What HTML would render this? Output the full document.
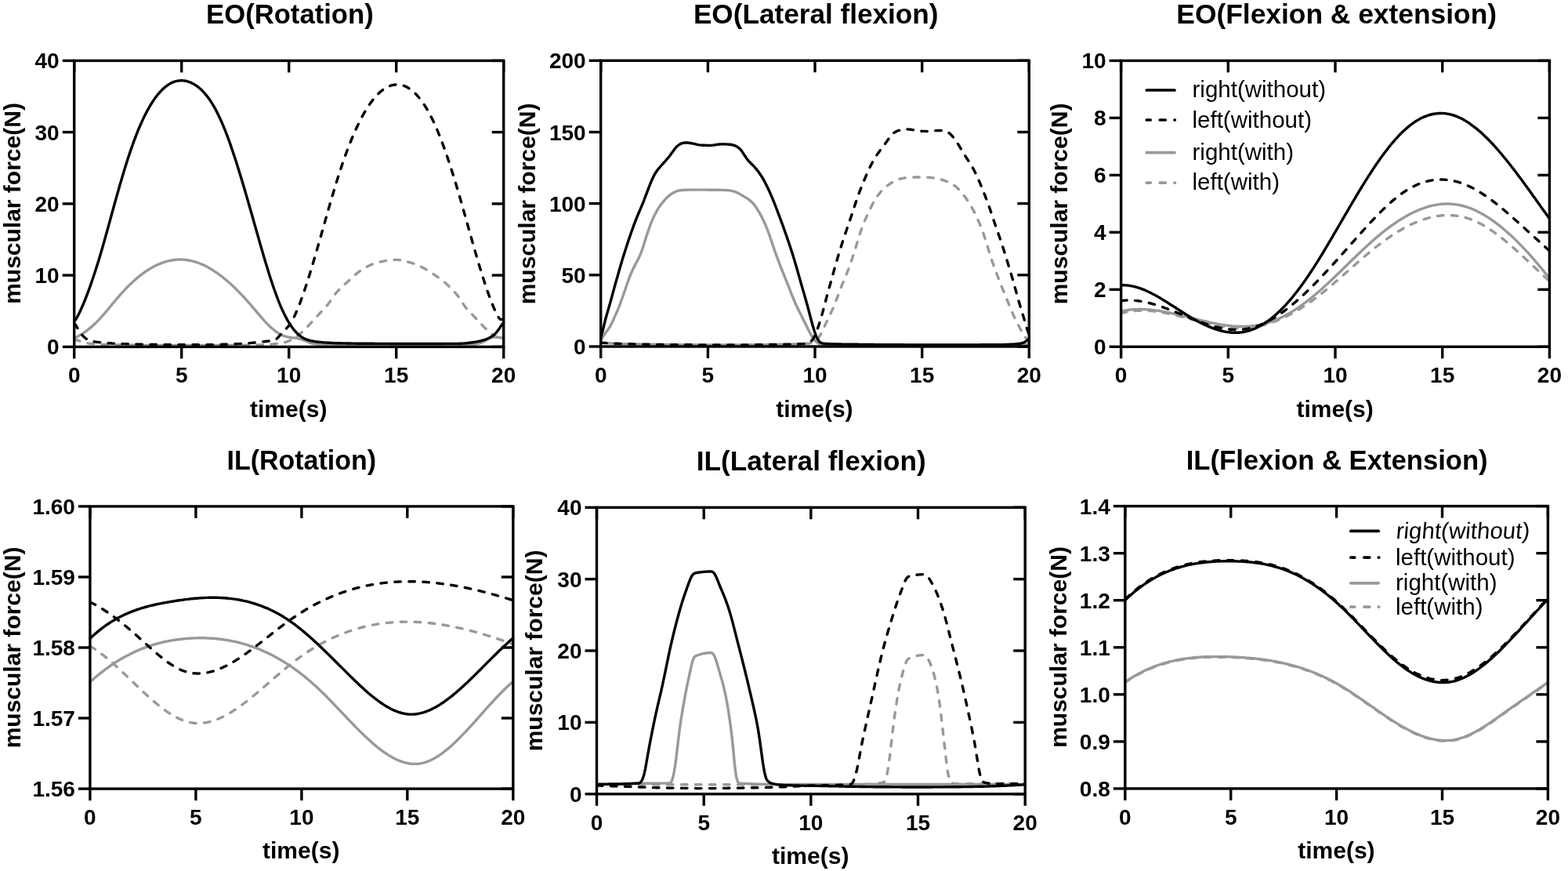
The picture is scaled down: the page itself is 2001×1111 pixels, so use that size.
<!DOCTYPE html><html><head><meta charset="utf-8"><style>html,body{margin:0;padding:0;background:#fff;}svg{display:block}</style></head><body>
<svg width="2001" height="1111" viewBox="0 0 2001 1111">
<rect width="2001" height="1111" fill="#fff"/>
<g><clipPath id="c0"><rect x="92.7" y="75.4" width="552.0" height="369.0"/></clipPath><path d="M94.7,433.0 L96.7,433.4 L98.7,434.1 L100.7,434.7 L102.7,435.4 L104.7,436.1 L106.7,436.6 L108.7,437.1 L110.7,437.5 L112.7,437.9 L114.7,438.2 L116.7,438.4 L118.7,438.7 L120.7,438.9 L122.7,439.0 L124.7,439.2 L126.7,439.3 L128.7,439.4 L130.7,439.5 L132.7,439.6 L134.7,439.6 L136.7,439.7 L138.7,439.7 L140.7,439.8 L142.7,439.8 L144.7,439.9 L146.7,439.9 L148.7,440.0 L150.7,440.0 L152.7,440.0 L154.7,440.1 L156.7,440.1 L158.7,440.2 L160.7,440.2 L162.7,440.2 L164.7,440.2 L166.7,440.3 L168.7,440.3 L170.7,440.3 L172.7,440.3 L174.7,440.4 L176.7,440.4 L178.7,440.4 L180.7,440.4 L182.7,440.4 L184.7,440.5 L186.7,440.5 L188.7,440.5 L190.7,440.5 L192.7,440.5 L194.7,440.5 L196.7,440.5 L198.7,440.5 L200.7,440.5 L202.7,440.5 L204.7,440.5 L206.7,440.5 L208.7,440.5 L210.7,440.5 L212.7,440.5 L214.7,440.5 L216.7,440.5 L218.7,440.5 L220.7,440.5 L222.7,440.5 L224.7,440.5 L226.7,440.5 L228.7,440.5 L230.7,440.5 L232.7,440.5 L234.7,440.5 L236.7,440.5 L238.7,440.5 L240.7,440.5 L242.7,440.5 L244.7,440.5 L246.7,440.5 L248.7,440.5 L250.7,440.5 L252.7,440.5 L254.7,440.5 L256.7,440.5 L258.7,440.5 L260.7,440.5 L262.7,440.5 L264.7,440.5 L266.7,440.5 L268.7,440.5 L270.7,440.5 L272.7,440.5 L274.7,440.5 L276.7,440.5 L278.7,440.5 L280.7,440.5 L282.7,440.5 L284.7,440.5 L286.7,440.5 L288.7,440.5 L290.7,440.5 L292.7,440.5 L294.7,440.5 L296.7,440.5 L298.7,440.5 L300.7,440.5 L302.7,440.5 L304.7,440.5 L306.7,440.5 L308.7,440.4 L310.7,440.4 L312.7,440.4 L314.7,440.3 L316.7,440.3 L318.7,440.2 L320.7,440.2 L322.7,440.1 L324.7,440.1 L326.7,440.0 L328.7,439.9 L330.7,439.9 L332.7,439.8 L334.7,439.7 L336.7,439.6 L338.7,439.5 L340.7,439.5 L342.7,439.3 L344.7,439.2 L346.7,439.1 L348.7,438.9 L350.7,438.7 L352.7,438.5 L354.7,438.2 L356.7,438.0 L358.7,437.6 L360.7,437.3 L362.7,436.8 L364.7,436.3 L366.7,435.6 L368.7,434.8 L370.7,434.0 L372.7,433.0 L374.7,432.0 L376.7,430.7 L378.7,429.3 L380.7,427.7 L382.7,426.0 L384.7,424.2 L386.7,422.4 L388.7,420.5 L390.7,418.5 L392.7,416.5 L394.7,414.4 L396.7,412.2 L398.7,410.0 L400.7,407.8 L402.7,405.5 L404.7,403.3 L406.7,401.1 L408.7,399.0 L410.7,396.9 L412.7,394.9 L414.7,392.7 L416.7,390.5 L418.7,388.0 L420.7,385.3 L422.7,382.4 L424.7,379.4 L426.7,376.6 L428.7,374.0 L430.7,371.7 L432.7,369.5 L434.7,367.5 L436.7,365.6 L438.7,363.8 L440.7,362.0 L442.7,360.2 L444.7,358.4 L446.7,356.6 L448.7,354.8 L450.7,352.9 L452.7,351.1 L454.7,349.4 L456.7,347.7 L458.7,346.1 L460.7,344.6 L462.7,343.3 L464.7,342.1 L466.7,341.0 L468.7,340.0 L470.7,339.0 L472.7,338.1 L474.7,337.2 L476.7,336.5 L478.7,335.8 L480.7,335.2 L482.7,334.6 L484.7,334.2 L486.7,333.7 L488.7,333.3 L490.7,332.9 L492.7,332.6 L494.7,332.3 L496.7,332.0 L498.7,331.7 L500.7,331.6 L502.7,331.4 L504.7,331.4 L506.7,331.4 L508.7,331.6 L510.7,331.8 L512.7,332.1 L514.7,332.5 L516.7,332.9 L518.7,333.4 L520.7,334.0 L522.7,334.6 L524.7,335.2 L526.7,335.8 L528.7,336.5 L530.7,337.2 L532.7,338.0 L534.7,338.9 L536.7,339.9 L538.7,340.9 L540.7,342.0 L542.7,343.1 L544.7,344.3 L546.7,345.5 L548.7,346.8 L550.7,348.0 L552.7,349.3 L554.7,350.7 L556.7,352.0 L558.7,353.5 L560.7,354.9 L562.7,356.4 L564.7,358.0 L566.7,359.6 L568.7,361.3 L570.7,363.1 L572.7,364.9 L574.7,366.8 L576.7,368.8 L578.7,370.9 L580.7,373.1 L582.7,375.4 L584.7,378.0 L586.7,380.8 L588.7,383.9 L590.7,387.1 L592.7,390.1 L594.7,392.8 L596.7,395.1 L598.7,397.3 L600.7,399.3 L602.7,401.3 L604.7,403.4 L606.7,405.5 L608.7,407.6 L610.7,409.8 L612.7,411.9 L614.7,414.0 L616.7,416.1 L618.7,418.1 L620.7,420.1 L622.7,422.0 L624.7,423.8 L626.7,425.5 L628.7,426.9 L630.7,428.2 L632.7,429.3 L634.7,430.3 L636.7,431.1 L638.7,431.8 L640.7,432.4 L642.7,432.7" fill="none" stroke="#999" stroke-width="3.4" stroke-linecap="round" stroke-linejoin="round" stroke-dasharray="7.5 10.5" clip-path="url(#c0)"/><path d="M94.7,431.2 L96.7,430.4 L98.7,429.4 L100.7,428.3 L102.7,427.1 L104.7,425.9 L106.7,424.6 L108.7,423.2 L110.7,421.8 L112.7,420.2 L114.7,418.6 L116.7,416.9 L118.7,415.2 L120.7,413.3 L122.7,411.4 L124.7,409.4 L126.7,407.3 L128.7,405.1 L130.7,402.9 L132.7,400.6 L134.7,398.3 L136.7,396.0 L138.7,393.6 L140.7,391.1 L142.7,388.7 L144.7,386.3 L146.7,383.9 L148.7,381.5 L150.7,379.1 L152.7,376.8 L154.7,374.6 L156.7,372.3 L158.7,370.2 L160.7,368.1 L162.7,366.0 L164.7,364.0 L166.7,362.1 L168.7,360.2 L170.7,358.4 L172.7,356.6 L174.7,354.9 L176.7,353.2 L178.7,351.6 L180.7,350.1 L182.7,348.6 L184.7,347.1 L186.7,345.8 L188.7,344.5 L190.7,343.2 L192.7,342.0 L194.7,340.9 L196.7,339.8 L198.7,338.8 L200.7,337.9 L202.7,337.0 L204.7,336.1 L206.7,335.4 L208.7,334.7 L210.7,334.0 L212.7,333.4 L214.7,332.9 L216.7,332.5 L218.7,332.1 L220.7,331.7 L222.7,331.5 L224.7,331.3 L226.7,331.1 L228.7,331.1 L230.7,331.0 L232.7,331.1 L234.7,331.2 L236.7,331.4 L238.7,331.7 L240.7,332.0 L242.7,332.4 L244.7,332.8 L246.7,333.3 L248.7,333.9 L250.7,334.5 L252.7,335.2 L254.7,336.0 L256.7,336.8 L258.7,337.6 L260.7,338.6 L262.7,339.6 L264.7,340.6 L266.7,341.7 L268.7,342.9 L270.7,344.1 L272.7,345.3 L274.7,346.7 L276.7,348.0 L278.7,349.4 L280.7,350.9 L282.7,352.4 L284.7,354.0 L286.7,355.6 L288.7,357.3 L290.7,359.0 L292.7,360.7 L294.7,362.5 L296.7,364.4 L298.7,366.3 L300.7,368.2 L302.7,370.2 L304.7,372.2 L306.7,374.3 L308.7,376.4 L310.7,378.5 L312.7,380.7 L314.7,382.9 L316.7,385.1 L318.7,387.4 L320.7,389.7 L322.7,392.1 L324.7,394.4 L326.7,396.8 L328.7,399.2 L330.7,401.6 L332.7,403.9 L334.7,406.2 L336.7,408.5 L338.7,410.7 L340.7,412.8 L342.7,414.8 L344.7,416.7 L346.7,418.5 L348.7,420.2 L350.7,421.8 L352.7,423.3 L354.7,424.6 L356.7,425.8 L358.7,426.9 L360.7,427.8 L362.7,428.6 L364.7,429.2 L366.7,429.8 L368.7,430.1 L370.7,430.4 L372.7,430.7 L374.7,430.9 L376.7,431.1 L378.7,431.4 L380.7,431.8 L382.7,432.3 L384.7,432.9 L386.7,433.6 L388.7,434.4 L390.7,435.2 L392.7,436.0 L394.7,436.8 L396.7,437.5 L398.7,438.0 L400.7,438.4 L402.7,438.7 L404.7,438.9 L406.7,439.2 L408.7,439.4 L410.7,439.6 L412.7,439.7 L414.7,439.8 L416.7,439.9 L418.7,440.0 L420.7,440.0 L422.7,440.0 L424.7,440.0 L426.7,440.0 L428.7,440.0 L430.7,440.0 L432.7,440.0 L434.7,440.0 L436.7,440.0 L438.7,440.0 L440.7,440.0 L442.7,440.0 L444.7,440.0 L446.7,440.0 L448.7,440.0 L450.7,440.0 L452.7,440.0 L454.7,440.0 L456.7,440.0 L458.7,440.0 L460.7,440.0 L462.7,440.0 L464.7,440.0 L466.7,440.0 L468.7,440.0 L470.7,440.0 L472.7,440.0 L474.7,440.0 L476.7,440.0 L478.7,440.0 L480.7,440.0 L482.7,440.0 L484.7,440.0 L486.7,440.0 L488.7,440.0 L490.7,440.0 L492.7,440.0 L494.7,440.0 L496.7,440.0 L498.7,440.0 L500.7,440.0 L502.7,440.0 L504.7,440.0 L506.7,440.0 L508.7,440.0 L510.7,440.0 L512.7,440.0 L514.7,440.0 L516.7,440.0 L518.7,440.0 L520.7,440.0 L522.7,440.0 L524.7,440.0 L526.7,440.0 L528.7,440.0 L530.7,440.0 L532.7,440.0 L534.7,440.0 L536.7,440.0 L538.7,440.0 L540.7,440.0 L542.7,440.0 L544.7,440.0 L546.7,440.0 L548.7,440.0 L550.7,440.0 L552.7,440.0 L554.7,440.0 L556.7,440.0 L558.7,440.0 L560.7,440.0 L562.7,440.0 L564.7,440.0 L566.7,440.0 L568.7,440.0 L570.7,440.0 L572.7,440.0 L574.7,440.0 L576.7,440.0 L578.7,440.0 L580.7,440.0 L582.7,440.0 L584.7,440.0 L586.7,440.0 L588.7,440.0 L590.7,440.0 L592.7,440.0 L594.7,440.0 L596.7,440.0 L598.7,440.0 L600.7,439.9 L602.7,439.7 L604.7,439.5 L606.7,439.1 L608.7,438.7 L610.7,438.2 L612.7,437.6 L614.7,436.9 L616.7,436.0 L618.7,434.9 L620.7,433.6 L622.7,432.4 L624.7,431.4 L626.7,430.7 L628.7,430.3 L630.7,430.1 L632.7,430.1 L634.7,430.2 L636.7,430.4 L638.7,430.7 L640.7,431.0 L642.7,431.2" fill="none" stroke="#999" stroke-width="3.4" stroke-linecap="round" stroke-linejoin="round" clip-path="url(#c0)"/><path d="M94.7,412.4 L96.7,414.9 L98.7,418.2 L100.7,421.6 L102.7,424.6 L104.7,427.2 L106.7,429.3 L108.7,431.1 L110.7,432.6 L112.7,433.7 L114.7,434.5 L116.7,435.0 L118.7,435.5 L120.7,435.8 L122.7,436.2 L124.7,436.4 L126.7,436.6 L128.7,436.9 L130.7,437.1 L132.7,437.2 L134.7,437.4 L136.7,437.6 L138.7,437.7 L140.7,437.8 L142.7,438.0 L144.7,438.1 L146.7,438.2 L148.7,438.3 L150.7,438.4 L152.7,438.4 L154.7,438.5 L156.7,438.6 L158.7,438.6 L160.7,438.7 L162.7,438.8 L164.7,438.8 L166.7,438.9 L168.7,438.9 L170.7,439.0 L172.7,439.0 L174.7,439.1 L176.7,439.1 L178.7,439.2 L180.7,439.2 L182.7,439.3 L184.7,439.3 L186.7,439.3 L188.7,439.4 L190.7,439.4 L192.7,439.4 L194.7,439.4 L196.7,439.5 L198.7,439.5 L200.7,439.5 L202.7,439.5 L204.7,439.5 L206.7,439.6 L208.7,439.6 L210.7,439.6 L212.7,439.6 L214.7,439.6 L216.7,439.6 L218.7,439.7 L220.7,439.7 L222.7,439.7 L224.7,439.7 L226.7,439.7 L228.7,439.7 L230.7,439.7 L232.7,439.8 L234.7,439.8 L236.7,439.8 L238.7,439.8 L240.7,439.8 L242.7,439.8 L244.7,439.8 L246.7,439.8 L248.7,439.8 L250.7,439.8 L252.7,439.8 L254.7,439.8 L256.7,439.8 L258.7,439.8 L260.7,439.7 L262.7,439.7 L264.7,439.7 L266.7,439.7 L268.7,439.6 L270.7,439.6 L272.7,439.6 L274.7,439.5 L276.7,439.5 L278.7,439.5 L280.7,439.4 L282.7,439.4 L284.7,439.3 L286.7,439.2 L288.7,439.2 L290.7,439.1 L292.7,439.1 L294.7,439.0 L296.7,438.9 L298.7,438.8 L300.7,438.8 L302.7,438.7 L304.7,438.6 L306.7,438.5 L308.7,438.4 L310.7,438.3 L312.7,438.2 L314.7,438.0 L316.7,437.8 L318.7,437.6 L320.7,437.4 L322.7,437.2 L324.7,437.0 L326.7,436.8 L328.7,436.6 L330.7,436.4 L332.7,436.2 L334.7,436.0 L336.7,435.7 L338.7,435.5 L340.7,435.3 L342.7,435.1 L344.7,434.9 L346.7,434.6 L348.7,434.3 L350.7,433.6 L352.7,432.5 L354.7,430.7 L356.7,428.4 L358.7,426.0 L360.7,423.8 L362.7,421.8 L364.7,419.8 L366.7,417.7 L368.7,415.3 L370.7,412.6 L372.7,409.4 L374.7,405.6 L376.7,401.3 L378.7,396.7 L380.7,391.9 L382.7,386.8 L384.7,381.4 L386.7,375.8 L388.7,370.0 L390.7,364.0 L392.7,357.8 L394.7,351.4 L396.7,344.9 L398.7,338.3 L400.7,331.6 L402.7,324.8 L404.7,317.8 L406.7,310.9 L408.7,303.8 L410.7,296.8 L412.7,289.7 L414.7,282.7 L416.7,275.6 L418.7,268.6 L420.7,261.6 L422.7,254.7 L424.7,247.9 L426.7,241.2 L428.7,234.6 L430.7,228.2 L432.7,221.9 L434.7,215.7 L436.7,209.8 L438.7,204.0 L440.7,198.3 L442.7,192.9 L444.7,187.6 L446.7,182.5 L448.7,177.5 L450.7,172.8 L452.7,168.2 L454.7,163.8 L456.7,159.5 L458.7,155.4 L460.7,151.5 L462.7,147.8 L464.7,144.2 L466.7,140.8 L468.7,137.6 L470.7,134.5 L472.7,131.6 L474.7,128.9 L476.7,126.4 L478.7,124.0 L480.7,121.7 L482.7,119.7 L484.7,117.8 L486.7,116.1 L488.7,114.5 L490.7,113.1 L492.7,111.9 L494.7,110.8 L496.7,109.9 L498.7,109.2 L500.7,108.6 L502.7,108.2 L504.7,108.0 L506.7,107.9 L508.7,108.0 L510.7,108.2 L512.7,108.6 L514.7,109.2 L516.7,109.9 L518.7,110.8 L520.7,111.9 L522.7,113.2 L524.7,114.6 L526.7,116.2 L528.7,118.0 L530.7,120.0 L532.7,122.1 L534.7,124.5 L536.7,127.0 L538.7,129.7 L540.7,132.6 L542.7,135.7 L544.7,139.0 L546.7,142.5 L548.7,146.2 L550.7,150.0 L552.7,154.1 L554.7,158.4 L556.7,162.9 L558.7,167.6 L560.7,172.5 L562.7,177.6 L564.7,182.9 L566.7,188.4 L568.7,194.0 L570.7,199.8 L572.7,205.8 L574.7,211.9 L576.7,218.1 L578.7,224.5 L580.7,231.0 L582.7,237.7 L584.7,244.4 L586.7,251.2 L588.7,258.2 L590.7,265.2 L592.7,272.3 L594.7,279.4 L596.7,286.5 L598.7,293.6 L600.7,300.8 L602.7,307.9 L604.7,314.9 L606.7,321.9 L608.7,328.8 L610.7,335.6 L612.7,342.2 L614.7,348.8 L616.7,355.1 L618.7,361.3 L620.7,367.3 L622.7,373.1 L624.7,378.7 L626.7,384.0 L628.7,389.0 L630.7,393.8 L632.7,398.2 L634.7,402.3 L636.7,405.5 L638.7,407.4 L640.7,407.6 L642.7,406.4" fill="none" stroke="#000" stroke-width="3.4" stroke-linecap="round" stroke-linejoin="round" stroke-dasharray="7.5 10.5" clip-path="url(#c0)"/><path d="M94.7,410.0 L96.7,407.5 L98.7,404.1 L100.7,400.2 L102.7,396.0 L104.7,391.5 L106.7,386.9 L108.7,382.0 L110.7,376.9 L112.7,371.6 L114.7,366.1 L116.7,360.4 L118.7,354.5 L120.7,348.5 L122.7,342.3 L124.7,335.9 L126.7,329.4 L128.7,322.7 L130.7,315.9 L132.7,308.9 L134.7,301.8 L136.7,294.7 L138.7,287.4 L140.7,280.1 L142.7,272.8 L144.7,265.5 L146.7,258.3 L148.7,251.1 L150.7,244.0 L152.7,237.0 L154.7,230.2 L156.7,223.4 L158.7,216.8 L160.7,210.3 L162.7,204.0 L164.7,197.9 L166.7,191.9 L168.7,186.2 L170.7,180.6 L172.7,175.3 L174.7,170.1 L176.7,165.2 L178.7,160.5 L180.7,156.0 L182.7,151.6 L184.7,147.5 L186.7,143.6 L188.7,139.9 L190.7,136.3 L192.7,133.0 L194.7,129.8 L196.7,126.9 L198.7,124.1 L200.7,121.5 L202.7,119.0 L204.7,116.8 L206.7,114.7 L208.7,112.8 L210.7,111.1 L212.7,109.5 L214.7,108.1 L216.7,106.9 L218.7,105.8 L220.7,104.9 L222.7,104.2 L224.7,103.6 L226.7,103.2 L228.7,102.9 L230.7,102.8 L232.7,102.8 L234.7,102.9 L236.7,103.2 L238.7,103.7 L240.7,104.3 L242.7,105.0 L244.7,105.9 L246.7,106.9 L248.7,108.1 L250.7,109.4 L252.7,110.9 L254.7,112.5 L256.7,114.3 L258.7,116.3 L260.7,118.4 L262.7,120.8 L264.7,123.3 L266.7,126.0 L268.7,128.9 L270.7,132.1 L272.7,135.4 L274.7,138.9 L276.7,142.7 L278.7,146.7 L280.7,150.9 L282.7,155.3 L284.7,160.0 L286.7,164.9 L288.7,170.0 L290.7,175.2 L292.7,180.7 L294.7,186.4 L296.7,192.2 L298.7,198.2 L300.7,204.3 L302.7,210.5 L304.7,216.9 L306.7,223.4 L308.7,230.0 L310.7,236.7 L312.7,243.5 L314.7,250.4 L316.7,257.3 L318.7,264.3 L320.7,271.3 L322.7,278.3 L324.7,285.4 L326.7,292.4 L328.7,299.5 L330.7,306.5 L332.7,313.5 L334.7,320.4 L336.7,327.2 L338.7,334.0 L340.7,340.6 L342.7,347.1 L344.7,353.4 L346.7,359.5 L348.7,365.5 L350.7,371.2 L352.7,376.7 L354.7,382.0 L356.7,387.1 L358.7,391.8 L360.7,396.3 L362.7,400.5 L364.7,404.4 L366.7,408.1 L368.7,411.5 L370.7,414.6 L372.7,417.5 L374.7,420.1 L376.7,422.5 L378.7,424.7 L380.7,426.6 L382.7,428.3 L384.7,429.7 L386.7,431.0 L388.7,432.0 L390.7,432.8 L392.7,433.5 L394.7,434.1 L396.7,434.6 L398.7,435.0 L400.7,435.4 L402.7,435.7 L404.7,436.0 L406.7,436.2 L408.7,436.4 L410.7,436.6 L412.7,436.8 L414.7,436.9 L416.7,437.1 L418.7,437.2 L420.7,437.3 L422.7,437.4 L424.7,437.5 L426.7,437.6 L428.7,437.7 L430.7,437.7 L432.7,437.8 L434.7,437.8 L436.7,437.9 L438.7,437.9 L440.7,437.9 L442.7,438.0 L444.7,438.0 L446.7,438.0 L448.7,438.1 L450.7,438.1 L452.7,438.1 L454.7,438.2 L456.7,438.2 L458.7,438.2 L460.7,438.2 L462.7,438.2 L464.7,438.3 L466.7,438.3 L468.7,438.3 L470.7,438.3 L472.7,438.3 L474.7,438.3 L476.7,438.3 L478.7,438.4 L480.7,438.4 L482.7,438.4 L484.7,438.4 L486.7,438.4 L488.7,438.4 L490.7,438.4 L492.7,438.4 L494.7,438.4 L496.7,438.4 L498.7,438.5 L500.7,438.5 L502.7,438.5 L504.7,438.5 L506.7,438.5 L508.7,438.5 L510.7,438.5 L512.7,438.5 L514.7,438.5 L516.7,438.5 L518.7,438.5 L520.7,438.5 L522.7,438.5 L524.7,438.5 L526.7,438.5 L528.7,438.5 L530.7,438.5 L532.7,438.5 L534.7,438.5 L536.7,438.5 L538.7,438.5 L540.7,438.5 L542.7,438.5 L544.7,438.5 L546.7,438.5 L548.7,438.5 L550.7,438.5 L552.7,438.5 L554.7,438.5 L556.7,438.5 L558.7,438.5 L560.7,438.5 L562.7,438.5 L564.7,438.5 L566.7,438.5 L568.7,438.4 L570.7,438.4 L572.7,438.4 L574.7,438.4 L576.7,438.4 L578.7,438.4 L580.7,438.4 L582.7,438.4 L584.7,438.4 L586.7,438.3 L588.7,438.2 L590.7,438.1 L592.7,438.0 L594.7,437.8 L596.7,437.6 L598.7,437.3 L600.7,437.0 L602.7,436.8 L604.7,436.5 L606.7,436.2 L608.7,435.8 L610.7,435.4 L612.7,435.0 L614.7,434.5 L616.7,433.9 L618.7,433.3 L620.7,432.6 L622.7,431.8 L624.7,430.8 L626.7,429.7 L628.7,428.4 L630.7,426.8 L632.7,424.9 L634.7,422.6 L636.7,419.8 L638.7,416.8 L640.7,413.9 L642.7,411.5" fill="none" stroke="#000" stroke-width="3.4" stroke-linecap="round" stroke-linejoin="round" clip-path="url(#c0)"/><rect x="94.7" y="77.4" width="548.0" height="365.0" fill="none" stroke="#000" stroke-width="3.4" stroke-linejoin="miter"/><line x1="94.7" y1="442.4" x2="94.7" y2="457.4" stroke="#000" stroke-width="3.4"/><line x1="94.7" y1="77.4" x2="94.7" y2="92.4" stroke="#000" stroke-width="3.4"/><text x="94.7" y="488.3" text-anchor="middle" font-family='"Liberation Sans", Arial, Helvetica, sans-serif' font-weight="bold" font-size="28">0</text><line x1="231.7" y1="442.4" x2="231.7" y2="457.4" stroke="#000" stroke-width="3.4"/><line x1="231.7" y1="77.4" x2="231.7" y2="92.4" stroke="#000" stroke-width="3.4"/><text x="231.7" y="488.3" text-anchor="middle" font-family='"Liberation Sans", Arial, Helvetica, sans-serif' font-weight="bold" font-size="28">5</text><line x1="368.7" y1="442.4" x2="368.7" y2="457.4" stroke="#000" stroke-width="3.4"/><line x1="368.7" y1="77.4" x2="368.7" y2="92.4" stroke="#000" stroke-width="3.4"/><text x="368.7" y="488.3" text-anchor="middle" font-family='"Liberation Sans", Arial, Helvetica, sans-serif' font-weight="bold" font-size="28">10</text><line x1="505.7" y1="442.4" x2="505.7" y2="457.4" stroke="#000" stroke-width="3.4"/><line x1="505.7" y1="77.4" x2="505.7" y2="92.4" stroke="#000" stroke-width="3.4"/><text x="505.7" y="488.3" text-anchor="middle" font-family='"Liberation Sans", Arial, Helvetica, sans-serif' font-weight="bold" font-size="28">15</text><line x1="642.7" y1="442.4" x2="642.7" y2="457.4" stroke="#000" stroke-width="3.4"/><line x1="642.7" y1="77.4" x2="642.7" y2="92.4" stroke="#000" stroke-width="3.4"/><text x="642.7" y="488.3" text-anchor="middle" font-family='"Liberation Sans", Arial, Helvetica, sans-serif' font-weight="bold" font-size="28">20</text><line x1="79.7" y1="442.4" x2="94.7" y2="442.4" stroke="#000" stroke-width="3.4"/><line x1="627.7" y1="442.4" x2="642.7" y2="442.4" stroke="#000" stroke-width="3.4"/><text x="75.7" y="452.4" text-anchor="end" font-family='"Liberation Sans", Arial, Helvetica, sans-serif' font-weight="bold" font-size="28">0</text><line x1="79.7" y1="351.1" x2="94.7" y2="351.1" stroke="#000" stroke-width="3.4"/><line x1="627.7" y1="351.1" x2="642.7" y2="351.1" stroke="#000" stroke-width="3.4"/><text x="75.7" y="361.1" text-anchor="end" font-family='"Liberation Sans", Arial, Helvetica, sans-serif' font-weight="bold" font-size="28">10</text><line x1="79.7" y1="259.9" x2="94.7" y2="259.9" stroke="#000" stroke-width="3.4"/><line x1="627.7" y1="259.9" x2="642.7" y2="259.9" stroke="#000" stroke-width="3.4"/><text x="75.7" y="269.9" text-anchor="end" font-family='"Liberation Sans", Arial, Helvetica, sans-serif' font-weight="bold" font-size="28">20</text><line x1="79.7" y1="168.6" x2="94.7" y2="168.6" stroke="#000" stroke-width="3.4"/><line x1="627.7" y1="168.6" x2="642.7" y2="168.6" stroke="#000" stroke-width="3.4"/><text x="75.7" y="178.6" text-anchor="end" font-family='"Liberation Sans", Arial, Helvetica, sans-serif' font-weight="bold" font-size="28">30</text><line x1="79.7" y1="77.4" x2="94.7" y2="77.4" stroke="#000" stroke-width="3.4"/><line x1="627.7" y1="77.4" x2="642.7" y2="77.4" stroke="#000" stroke-width="3.4"/><text x="75.7" y="87.4" text-anchor="end" font-family='"Liberation Sans", Arial, Helvetica, sans-serif' font-weight="bold" font-size="28">40</text><text x="369.9" y="30.0" text-anchor="middle" textLength="213.6" lengthAdjust="spacingAndGlyphs" font-family='"Liberation Sans", Arial, Helvetica, sans-serif' font-weight="bold" font-size="35">EO(Rotation)</text><text x="368.2" y="531.7" text-anchor="middle" font-family='"Liberation Sans", Arial, Helvetica, sans-serif' font-weight="bold" font-size="30">time(s)</text><text transform="translate(26.3,259.5) rotate(-90)" x="0" y="0" text-anchor="middle" font-family='"Liberation Sans", Arial, Helvetica, sans-serif' font-weight="bold" font-size="30">muscular force(N)</text></g>
<g><clipPath id="c1"><rect x="764.7" y="75.3" width="550.5999999999999" height="368.7"/></clipPath><path d="M766.7,437.1 L768.7,437.2 L770.7,437.4 L772.7,437.5 L774.7,437.7 L776.7,437.8 L778.7,437.9 L780.7,438.0 L782.7,438.1 L784.7,438.2 L786.7,438.2 L788.7,438.3 L790.7,438.4 L792.7,438.4 L794.7,438.5 L796.7,438.6 L798.7,438.6 L800.7,438.7 L802.7,438.7 L804.7,438.8 L806.7,438.8 L808.7,438.9 L810.7,438.9 L812.7,438.9 L814.7,439.0 L816.7,439.0 L818.7,439.1 L820.7,439.1 L822.7,439.1 L824.7,439.2 L826.7,439.2 L828.7,439.2 L830.7,439.3 L832.7,439.3 L834.7,439.3 L836.7,439.3 L838.7,439.4 L840.7,439.4 L842.7,439.4 L844.7,439.4 L846.7,439.5 L848.7,439.5 L850.7,439.5 L852.7,439.5 L854.7,439.5 L856.7,439.6 L858.7,439.6 L860.7,439.6 L862.7,439.6 L864.7,439.6 L866.7,439.7 L868.7,439.7 L870.7,439.7 L872.7,439.7 L874.7,439.7 L876.7,439.7 L878.7,439.8 L880.7,439.8 L882.7,439.8 L884.7,439.8 L886.7,439.8 L888.7,439.8 L890.7,439.9 L892.7,439.9 L894.7,439.9 L896.7,439.9 L898.7,439.9 L900.7,439.9 L902.7,439.9 L904.7,439.9 L906.7,439.9 L908.7,440.0 L910.7,440.0 L912.7,440.0 L914.7,440.0 L916.7,440.0 L918.7,440.0 L920.7,440.0 L922.7,440.0 L924.7,440.0 L926.7,440.0 L928.7,440.0 L930.7,440.0 L932.7,440.0 L934.7,440.0 L936.7,440.0 L938.7,440.0 L940.7,440.0 L942.7,440.0 L944.7,440.0 L946.7,439.9 L948.7,439.9 L950.7,439.9 L952.7,439.9 L954.7,439.9 L956.7,439.8 L958.7,439.8 L960.7,439.8 L962.7,439.8 L964.7,439.8 L966.7,439.7 L968.7,439.7 L970.7,439.7 L972.7,439.6 L974.7,439.6 L976.7,439.6 L978.7,439.6 L980.7,439.5 L982.7,439.5 L984.7,439.5 L986.7,439.4 L988.7,439.4 L990.7,439.4 L992.7,439.3 L994.7,439.3 L996.7,439.3 L998.7,439.2 L1000.7,439.2 L1002.7,439.2 L1004.7,439.1 L1006.7,439.1 L1008.7,439.0 L1010.7,439.0 L1012.7,439.0 L1014.7,438.9 L1016.7,438.9 L1018.7,438.8 L1020.7,438.7 L1022.7,438.7 L1024.7,438.6 L1026.7,438.5 L1028.7,438.3 L1030.7,438.2 L1032.7,437.9 L1034.7,437.5 L1036.7,437.0 L1038.7,436.3 L1040.7,435.2 L1042.7,433.4 L1044.7,430.8 L1046.7,427.4 L1048.7,423.5 L1050.7,419.5 L1052.7,415.3 L1054.7,411.1 L1056.7,406.9 L1058.7,402.7 L1060.7,398.4 L1062.7,394.0 L1064.7,389.3 L1066.7,384.2 L1068.7,378.8 L1070.7,373.3 L1072.7,368.1 L1074.7,363.2 L1076.7,358.5 L1078.7,353.7 L1080.7,348.7 L1082.7,343.5 L1084.7,338.0 L1086.7,332.2 L1088.7,326.2 L1090.7,319.9 L1092.7,313.4 L1094.7,306.8 L1096.7,300.4 L1098.7,294.4 L1100.7,288.7 L1102.7,283.5 L1104.7,278.8 L1106.7,274.4 L1108.7,270.2 L1110.7,266.1 L1112.7,262.1 L1114.7,258.2 L1116.7,254.7 L1118.7,251.5 L1120.7,248.7 L1122.7,246.2 L1124.7,243.9 L1126.7,241.9 L1128.7,240.0 L1130.7,238.3 L1132.7,236.7 L1134.7,235.2 L1136.7,233.8 L1138.7,232.5 L1140.7,231.3 L1142.7,230.2 L1144.7,229.4 L1146.7,228.7 L1148.7,228.2 L1150.7,227.7 L1152.7,227.3 L1154.7,226.9 L1156.7,226.7 L1158.7,226.4 L1160.7,226.2 L1162.7,226.1 L1164.7,226.1 L1166.7,226.1 L1168.7,226.0 L1170.7,226.0 L1172.7,226.0 L1174.7,226.0 L1176.7,226.0 L1178.7,226.0 L1180.7,226.0 L1182.7,226.1 L1184.7,226.2 L1186.7,226.4 L1188.7,226.6 L1190.7,226.9 L1192.7,227.2 L1194.7,227.5 L1196.7,227.9 L1198.7,228.3 L1200.7,228.8 L1202.7,229.4 L1204.7,230.1 L1206.7,230.8 L1208.7,231.6 L1210.7,232.5 L1212.7,233.5 L1214.7,234.5 L1216.7,235.8 L1218.7,237.2 L1220.7,238.8 L1222.7,240.8 L1224.7,242.9 L1226.7,245.2 L1228.7,247.6 L1230.7,250.1 L1232.7,252.8 L1234.7,255.7 L1236.7,258.7 L1238.7,261.9 L1240.7,265.5 L1242.7,269.2 L1244.7,273.3 L1246.7,277.6 L1248.7,282.1 L1250.7,286.7 L1252.7,291.7 L1254.7,297.0 L1256.7,303.0 L1258.7,309.3 L1260.7,315.9 L1262.7,322.5 L1264.7,328.9 L1266.7,334.9 L1268.7,340.6 L1270.7,346.0 L1272.7,351.2 L1274.7,356.4 L1276.7,361.5 L1278.7,366.6 L1280.7,371.5 L1282.7,376.4 L1284.7,381.2 L1286.7,386.1 L1288.7,391.1 L1290.7,396.0 L1292.7,400.7 L1294.7,405.1 L1296.7,409.2 L1298.7,413.2 L1300.7,417.0 L1302.7,420.7 L1304.7,424.3 L1306.7,427.6 L1308.7,430.5 L1310.7,432.7 L1312.0,433.8" fill="none" stroke="#999" stroke-width="3.4" stroke-linecap="round" stroke-linejoin="round" stroke-dasharray="7.5 10.5" stroke-dashoffset="9" clip-path="url(#c1)"/><path d="M766.7,433.6 L768.7,430.9 L770.7,427.7 L772.7,424.8 L774.7,422.1 L776.7,419.4 L778.7,416.2 L780.7,412.3 L782.7,407.9 L784.7,403.4 L786.7,399.0 L788.7,394.3 L790.7,389.4 L792.7,384.0 L794.7,378.4 L796.7,372.6 L798.7,366.8 L800.7,361.0 L802.7,355.4 L804.7,350.2 L806.7,345.6 L808.7,341.4 L810.7,337.5 L812.7,333.7 L814.7,329.9 L816.7,325.7 L818.7,320.8 L820.7,314.9 L822.7,308.5 L824.7,302.1 L826.7,296.0 L828.7,290.2 L830.7,284.9 L832.7,280.1 L834.7,275.7 L836.7,271.8 L838.7,268.2 L840.7,264.9 L842.7,262.0 L844.7,259.3 L846.7,256.9 L848.7,254.6 L850.7,252.5 L852.7,250.6 L854.7,248.9 L856.7,247.4 L858.7,246.2 L860.7,245.1 L862.7,244.2 L864.7,243.5 L866.7,243.0 L868.7,242.7 L870.7,242.5 L872.7,242.4 L874.7,242.3 L876.7,242.2 L878.7,242.1 L880.7,242.1 L882.7,242.1 L884.7,242.1 L886.7,242.1 L888.7,242.1 L890.7,242.1 L892.7,242.1 L894.7,242.1 L896.7,242.1 L898.7,242.1 L900.7,242.1 L902.7,242.1 L904.7,242.2 L906.7,242.2 L908.7,242.2 L910.7,242.2 L912.7,242.3 L914.7,242.3 L916.7,242.3 L918.7,242.4 L920.7,242.4 L922.7,242.4 L924.7,242.5 L926.7,242.6 L928.7,242.7 L930.7,242.9 L932.7,243.3 L934.7,243.7 L936.7,244.2 L938.7,244.9 L940.7,245.8 L942.7,246.8 L944.7,247.9 L946.7,249.1 L948.7,250.2 L950.7,251.4 L952.7,252.6 L954.7,253.9 L956.7,255.4 L958.7,257.1 L960.7,259.2 L962.7,261.6 L964.7,264.3 L966.7,267.3 L968.7,270.6 L970.7,274.1 L972.7,277.9 L974.7,282.0 L976.7,286.5 L978.7,291.4 L980.7,296.6 L982.7,302.2 L984.7,308.1 L986.7,314.1 L988.7,319.9 L990.7,325.5 L992.7,330.9 L994.7,336.2 L996.7,341.3 L998.7,346.4 L1000.7,351.4 L1002.7,356.4 L1004.7,361.4 L1006.7,366.4 L1008.7,371.5 L1010.7,376.6 L1012.7,381.5 L1014.7,386.2 L1016.7,390.6 L1018.7,394.8 L1020.7,398.8 L1022.7,402.7 L1024.7,406.7 L1026.7,410.7 L1028.7,414.8 L1030.7,418.9 L1032.7,422.8 L1034.7,426.5 L1036.7,429.8 L1038.7,432.7 L1040.7,435.1 L1042.7,436.9 L1044.7,438.1 L1046.7,438.8 L1048.7,439.2 L1050.7,439.5 L1052.7,439.7 L1054.7,439.8 L1056.7,439.9 L1058.7,440.0 L1060.7,440.0 L1062.7,440.0 L1064.7,440.0 L1066.7,440.0 L1068.7,440.0 L1070.7,440.0 L1072.7,440.0 L1074.7,440.0 L1076.7,440.0 L1078.7,440.0 L1080.7,440.0 L1082.7,440.0 L1084.7,440.0 L1086.7,440.0 L1088.7,440.0 L1090.7,440.0 L1092.7,440.0 L1094.7,440.0 L1096.7,440.0 L1098.7,440.0 L1100.7,440.0 L1102.7,440.0 L1104.7,440.0 L1106.7,440.0 L1108.7,440.0 L1110.7,440.0 L1112.7,440.0 L1114.7,440.0 L1116.7,440.0 L1118.7,440.0 L1120.7,440.0 L1122.7,440.0 L1124.7,440.0 L1126.7,440.0 L1128.7,440.0 L1130.7,440.0 L1132.7,440.0 L1134.7,440.0 L1136.7,440.0 L1138.7,440.0 L1140.7,440.0 L1142.7,440.0 L1144.7,440.0 L1146.7,440.0 L1148.7,440.0 L1150.7,440.0 L1152.7,440.0 L1154.7,440.0 L1156.7,440.0 L1158.7,440.0 L1160.7,440.0 L1162.7,440.0 L1164.7,440.0 L1166.7,440.0 L1168.7,440.0 L1170.7,440.0 L1172.7,440.0 L1174.7,440.0 L1176.7,440.0 L1178.7,440.0 L1180.7,440.0 L1182.7,440.0 L1184.7,440.0 L1186.7,440.0 L1188.7,440.0 L1190.7,440.0 L1192.7,440.0 L1194.7,440.0 L1196.7,440.0 L1198.7,440.0 L1200.7,440.0 L1202.7,440.0 L1204.7,440.0 L1206.7,440.0 L1208.7,440.0 L1210.7,440.0 L1212.7,440.0 L1214.7,440.0 L1216.7,440.0 L1218.7,440.0 L1220.7,440.0 L1222.7,440.0 L1224.7,440.0 L1226.7,440.0 L1228.7,440.0 L1230.7,440.0 L1232.7,440.0 L1234.7,440.0 L1236.7,440.0 L1238.7,440.0 L1240.7,440.0 L1242.7,440.0 L1244.7,440.0 L1246.7,440.0 L1248.7,440.0 L1250.7,440.0 L1252.7,440.0 L1254.7,440.0 L1256.7,440.0 L1258.7,440.0 L1260.7,440.0 L1262.7,440.0 L1264.7,440.0 L1266.7,440.0 L1268.7,440.0 L1270.7,440.0 L1272.7,440.0 L1274.7,440.0 L1276.7,440.0 L1278.7,440.0 L1280.7,440.0 L1282.7,440.0 L1284.7,440.0 L1286.7,440.0 L1288.7,440.0 L1290.7,440.0 L1292.7,440.0 L1294.7,440.0 L1296.7,440.0 L1298.7,440.0 L1300.7,440.0 L1302.7,439.9 L1304.7,439.8 L1306.7,439.6 L1308.7,439.4 L1310.7,439.3 L1312.7,439.1 L1313.3,439.1" fill="none" stroke="#999" stroke-width="3.4" stroke-linecap="round" stroke-linejoin="round" clip-path="url(#c1)"/><path d="M766.7,437.1 L768.7,437.2 L770.7,437.4 L772.7,437.5 L774.7,437.7 L776.7,437.8 L778.7,437.9 L780.7,438.0 L782.7,438.1 L784.7,438.2 L786.7,438.2 L788.7,438.3 L790.7,438.4 L792.7,438.4 L794.7,438.5 L796.7,438.6 L798.7,438.6 L800.7,438.7 L802.7,438.7 L804.7,438.8 L806.7,438.8 L808.7,438.9 L810.7,438.9 L812.7,438.9 L814.7,439.0 L816.7,439.0 L818.7,439.1 L820.7,439.1 L822.7,439.1 L824.7,439.2 L826.7,439.2 L828.7,439.2 L830.7,439.3 L832.7,439.3 L834.7,439.3 L836.7,439.3 L838.7,439.4 L840.7,439.4 L842.7,439.4 L844.7,439.4 L846.7,439.5 L848.7,439.5 L850.7,439.5 L852.7,439.5 L854.7,439.5 L856.7,439.6 L858.7,439.6 L860.7,439.6 L862.7,439.6 L864.7,439.6 L866.7,439.7 L868.7,439.7 L870.7,439.7 L872.7,439.7 L874.7,439.7 L876.7,439.7 L878.7,439.8 L880.7,439.8 L882.7,439.8 L884.7,439.8 L886.7,439.8 L888.7,439.8 L890.7,439.9 L892.7,439.9 L894.7,439.9 L896.7,439.9 L898.7,439.9 L900.7,439.9 L902.7,439.9 L904.7,439.9 L906.7,439.9 L908.7,440.0 L910.7,440.0 L912.7,440.0 L914.7,440.0 L916.7,440.0 L918.7,440.0 L920.7,440.0 L922.7,440.0 L924.7,440.0 L926.7,440.0 L928.7,440.0 L930.7,440.0 L932.7,440.0 L934.7,440.0 L936.7,440.0 L938.7,440.0 L940.7,440.0 L942.7,440.0 L944.7,440.0 L946.7,439.9 L948.7,439.9 L950.7,439.9 L952.7,439.9 L954.7,439.9 L956.7,439.8 L958.7,439.8 L960.7,439.8 L962.7,439.8 L964.7,439.8 L966.7,439.7 L968.7,439.7 L970.7,439.7 L972.7,439.6 L974.7,439.6 L976.7,439.6 L978.7,439.6 L980.7,439.5 L982.7,439.5 L984.7,439.5 L986.7,439.4 L988.7,439.4 L990.7,439.4 L992.7,439.3 L994.7,439.3 L996.7,439.3 L998.7,439.2 L1000.7,439.2 L1002.7,439.2 L1004.7,439.1 L1006.7,439.1 L1008.7,439.1 L1010.7,439.0 L1012.7,439.0 L1014.7,438.9 L1016.7,438.9 L1018.7,438.8 L1020.7,438.8 L1022.7,438.7 L1024.7,438.6 L1026.7,438.5 L1028.7,438.3 L1030.7,437.9 L1032.7,437.0 L1034.7,435.7 L1036.7,433.6 L1038.7,430.5 L1040.7,426.2 L1042.7,421.1 L1044.7,415.4 L1046.7,409.3 L1048.7,402.5 L1050.7,395.0 L1052.7,387.3 L1054.7,379.7 L1056.7,372.4 L1058.7,365.2 L1060.7,358.1 L1062.7,350.9 L1064.7,343.7 L1066.7,336.6 L1068.7,329.8 L1070.7,323.1 L1072.7,316.6 L1074.7,310.3 L1076.7,304.1 L1078.7,298.1 L1080.7,292.3 L1082.7,286.5 L1084.7,280.6 L1086.7,274.6 L1088.7,268.5 L1090.7,262.4 L1092.7,256.4 L1094.7,250.6 L1096.7,245.1 L1098.7,240.0 L1100.7,235.1 L1102.7,230.2 L1104.7,225.5 L1106.7,220.8 L1108.7,216.4 L1110.7,212.2 L1112.7,208.3 L1114.7,204.7 L1116.7,201.3 L1118.7,198.1 L1120.7,195.2 L1122.7,192.4 L1124.7,189.7 L1126.7,187.1 L1128.7,184.5 L1130.7,181.8 L1132.7,179.0 L1134.7,176.1 L1136.7,173.5 L1138.7,171.3 L1140.7,169.5 L1142.7,168.2 L1144.7,167.2 L1146.7,166.5 L1148.7,166.0 L1150.7,165.5 L1152.7,165.2 L1154.7,165.0 L1156.7,164.9 L1158.7,164.9 L1160.7,165.1 L1162.7,165.3 L1164.7,165.6 L1166.7,165.9 L1168.7,166.3 L1170.7,166.6 L1172.7,166.9 L1174.7,167.1 L1176.7,167.3 L1178.7,167.4 L1180.7,167.4 L1182.7,167.5 L1184.7,167.4 L1186.7,167.3 L1188.7,167.1 L1190.7,166.9 L1192.7,166.7 L1194.7,166.6 L1196.7,166.5 L1198.7,166.5 L1200.7,166.5 L1202.7,166.6 L1204.7,166.9 L1206.7,167.3 L1208.7,168.1 L1210.7,169.3 L1212.7,170.9 L1214.7,173.0 L1216.7,175.4 L1218.7,178.0 L1220.7,180.9 L1222.7,183.9 L1224.7,187.2 L1226.7,190.6 L1228.7,194.0 L1230.7,197.3 L1232.7,200.4 L1234.7,203.4 L1236.7,206.4 L1238.7,209.5 L1240.7,212.8 L1242.7,216.5 L1244.7,220.5 L1246.7,224.7 L1248.7,229.1 L1250.7,233.8 L1252.7,238.6 L1254.7,243.6 L1256.7,248.7 L1258.7,253.8 L1260.7,259.2 L1262.7,264.8 L1264.7,270.7 L1266.7,276.8 L1268.7,282.7 L1270.7,288.5 L1272.7,294.2 L1274.7,300.0 L1276.7,305.8 L1278.7,311.8 L1280.7,318.1 L1282.7,324.5 L1284.7,331.0 L1286.7,337.5 L1288.7,344.1 L1290.7,350.7 L1292.7,357.6 L1294.7,364.8 L1296.7,372.0 L1298.7,379.3 L1300.7,386.3 L1302.7,392.9 L1304.7,399.4 L1306.7,406.1 L1308.7,413.0 L1310.7,419.8 L1312.7,425.1" fill="none" stroke="#000" stroke-width="3.4" stroke-linecap="round" stroke-linejoin="round" stroke-dasharray="7.5 10.5" clip-path="url(#c1)"/><path d="M766.7,429.7 L768.7,423.5 L770.7,415.3 L772.7,407.2 L774.7,400.0 L776.7,393.2 L778.7,386.2 L780.7,379.0 L782.7,371.5 L784.7,364.3 L786.7,357.3 L788.7,350.2 L790.7,343.1 L792.7,336.2 L794.7,329.6 L796.7,323.2 L798.7,317.0 L800.7,310.8 L802.7,304.8 L804.7,298.9 L806.7,293.2 L808.7,287.7 L810.7,282.4 L812.7,277.4 L814.7,272.5 L816.7,267.9 L818.7,263.2 L820.7,258.3 L822.7,253.2 L824.7,247.9 L826.7,242.6 L828.7,237.4 L830.7,232.4 L832.7,227.7 L834.7,223.7 L836.7,220.2 L838.7,217.4 L840.7,214.8 L842.7,212.5 L844.7,210.2 L846.7,208.0 L848.7,205.8 L850.7,203.5 L852.7,201.2 L854.7,198.7 L856.7,196.0 L858.7,193.2 L860.7,190.4 L862.7,188.0 L864.7,186.0 L866.7,184.5 L868.7,183.4 L870.7,182.6 L872.7,182.2 L874.7,182.0 L876.7,182.0 L878.7,182.2 L880.7,182.5 L882.7,182.8 L884.7,183.2 L886.7,183.7 L888.7,184.2 L890.7,184.6 L892.7,184.9 L894.7,185.1 L896.7,185.2 L898.7,185.3 L900.7,185.4 L902.7,185.5 L904.7,185.5 L906.7,185.5 L908.7,185.4 L910.7,185.1 L912.7,184.8 L914.7,184.4 L916.7,184.2 L918.7,184.0 L920.7,183.9 L922.7,183.9 L924.7,183.9 L926.7,184.0 L928.7,184.1 L930.7,184.2 L932.7,184.5 L934.7,184.8 L936.7,185.3 L938.7,186.1 L940.7,187.2 L942.7,188.6 L944.7,190.5 L946.7,192.9 L948.7,195.9 L950.7,199.0 L952.7,202.0 L954.7,204.6 L956.7,206.8 L958.7,208.8 L960.7,210.7 L962.7,212.8 L964.7,215.1 L966.7,217.6 L968.7,220.3 L970.7,223.2 L972.7,226.3 L974.7,229.7 L976.7,233.4 L978.7,237.4 L980.7,241.6 L982.7,246.0 L984.7,250.6 L986.7,255.4 L988.7,260.4 L990.7,265.5 L992.7,270.8 L994.7,276.1 L996.7,281.5 L998.7,286.9 L1000.7,292.5 L1002.7,298.2 L1004.7,303.9 L1006.7,309.8 L1008.7,315.8 L1010.7,321.9 L1012.7,328.3 L1014.7,334.9 L1016.7,341.8 L1018.7,348.9 L1020.7,355.9 L1022.7,363.0 L1024.7,369.9 L1026.7,376.8 L1028.7,383.8 L1030.7,391.0 L1032.7,398.5 L1034.7,406.2 L1036.7,413.7 L1038.7,420.5 L1040.7,426.5 L1042.7,431.3 L1044.7,434.7 L1046.7,436.7 L1048.7,437.6 L1050.7,438.1 L1052.7,438.3 L1054.7,438.4 L1056.7,438.5 L1058.7,438.6 L1060.7,438.7 L1062.7,438.7 L1064.7,438.8 L1066.7,438.9 L1068.7,438.9 L1070.7,439.0 L1072.7,439.0 L1074.7,439.1 L1076.7,439.1 L1078.7,439.1 L1080.7,439.2 L1082.7,439.2 L1084.7,439.2 L1086.7,439.3 L1088.7,439.3 L1090.7,439.3 L1092.7,439.3 L1094.7,439.3 L1096.7,439.4 L1098.7,439.4 L1100.7,439.4 L1102.7,439.4 L1104.7,439.4 L1106.7,439.5 L1108.7,439.5 L1110.7,439.5 L1112.7,439.5 L1114.7,439.5 L1116.7,439.6 L1118.7,439.6 L1120.7,439.6 L1122.7,439.6 L1124.7,439.6 L1126.7,439.7 L1128.7,439.7 L1130.7,439.7 L1132.7,439.7 L1134.7,439.7 L1136.7,439.7 L1138.7,439.7 L1140.7,439.8 L1142.7,439.8 L1144.7,439.8 L1146.7,439.8 L1148.7,439.8 L1150.7,439.8 L1152.7,439.8 L1154.7,439.9 L1156.7,439.9 L1158.7,439.9 L1160.7,439.9 L1162.7,439.9 L1164.7,439.9 L1166.7,439.9 L1168.7,439.9 L1170.7,439.9 L1172.7,439.9 L1174.7,440.0 L1176.7,440.0 L1178.7,440.0 L1180.7,440.0 L1182.7,440.0 L1184.7,440.0 L1186.7,440.0 L1188.7,440.0 L1190.7,440.0 L1192.7,440.0 L1194.7,440.0 L1196.7,440.0 L1198.7,440.0 L1200.7,440.0 L1202.7,440.0 L1204.7,440.0 L1206.7,440.0 L1208.7,440.0 L1210.7,440.0 L1212.7,440.0 L1214.7,440.0 L1216.7,440.0 L1218.7,440.0 L1220.7,440.0 L1222.7,440.0 L1224.7,440.0 L1226.7,440.0 L1228.7,440.0 L1230.7,439.9 L1232.7,439.9 L1234.7,439.9 L1236.7,439.9 L1238.7,439.9 L1240.7,439.9 L1242.7,439.9 L1244.7,439.9 L1246.7,439.9 L1248.7,439.9 L1250.7,439.9 L1252.7,439.8 L1254.7,439.8 L1256.7,439.8 L1258.7,439.8 L1260.7,439.8 L1262.7,439.8 L1264.7,439.7 L1266.7,439.7 L1268.7,439.7 L1270.7,439.7 L1272.7,439.7 L1274.7,439.7 L1276.7,439.6 L1278.7,439.6 L1280.7,439.6 L1282.7,439.5 L1284.7,439.5 L1286.7,439.4 L1288.7,439.3 L1290.7,439.2 L1292.7,439.1 L1294.7,438.9 L1296.7,438.8 L1298.7,438.5 L1300.7,438.3 L1302.7,438.0 L1304.7,437.5 L1306.7,436.8 L1308.7,435.6 L1310.7,434.1 L1312.0,433.2" fill="none" stroke="#000" stroke-width="3.4" stroke-linecap="round" stroke-linejoin="round" clip-path="url(#c1)"/><rect x="766.7" y="77.3" width="546.5999999999999" height="364.7" fill="none" stroke="#000" stroke-width="3.4" stroke-linejoin="miter"/><line x1="766.7" y1="442.0" x2="766.7" y2="457.0" stroke="#000" stroke-width="3.4"/><line x1="766.7" y1="77.3" x2="766.7" y2="92.3" stroke="#000" stroke-width="3.4"/><text x="766.7" y="487.9" text-anchor="middle" font-family='"Liberation Sans", Arial, Helvetica, sans-serif' font-weight="bold" font-size="28">0</text><line x1="903.4" y1="442.0" x2="903.4" y2="457.0" stroke="#000" stroke-width="3.4"/><line x1="903.4" y1="77.3" x2="903.4" y2="92.3" stroke="#000" stroke-width="3.4"/><text x="903.4" y="487.9" text-anchor="middle" font-family='"Liberation Sans", Arial, Helvetica, sans-serif' font-weight="bold" font-size="28">5</text><line x1="1040.0" y1="442.0" x2="1040.0" y2="457.0" stroke="#000" stroke-width="3.4"/><line x1="1040.0" y1="77.3" x2="1040.0" y2="92.3" stroke="#000" stroke-width="3.4"/><text x="1040.0" y="487.9" text-anchor="middle" font-family='"Liberation Sans", Arial, Helvetica, sans-serif' font-weight="bold" font-size="28">10</text><line x1="1176.7" y1="442.0" x2="1176.7" y2="457.0" stroke="#000" stroke-width="3.4"/><line x1="1176.7" y1="77.3" x2="1176.7" y2="92.3" stroke="#000" stroke-width="3.4"/><text x="1176.7" y="487.9" text-anchor="middle" font-family='"Liberation Sans", Arial, Helvetica, sans-serif' font-weight="bold" font-size="28">15</text><line x1="1313.3" y1="442.0" x2="1313.3" y2="457.0" stroke="#000" stroke-width="3.4"/><line x1="1313.3" y1="77.3" x2="1313.3" y2="92.3" stroke="#000" stroke-width="3.4"/><text x="1313.3" y="487.9" text-anchor="middle" font-family='"Liberation Sans", Arial, Helvetica, sans-serif' font-weight="bold" font-size="28">20</text><line x1="751.7" y1="442.0" x2="766.7" y2="442.0" stroke="#000" stroke-width="3.4"/><line x1="1298.3" y1="442.0" x2="1313.3" y2="442.0" stroke="#000" stroke-width="3.4"/><text x="747.7" y="452.0" text-anchor="end" font-family='"Liberation Sans", Arial, Helvetica, sans-serif' font-weight="bold" font-size="28">0</text><line x1="751.7" y1="350.8" x2="766.7" y2="350.8" stroke="#000" stroke-width="3.4"/><line x1="1298.3" y1="350.8" x2="1313.3" y2="350.8" stroke="#000" stroke-width="3.4"/><text x="747.7" y="360.8" text-anchor="end" font-family='"Liberation Sans", Arial, Helvetica, sans-serif' font-weight="bold" font-size="28">50</text><line x1="751.7" y1="259.6" x2="766.7" y2="259.6" stroke="#000" stroke-width="3.4"/><line x1="1298.3" y1="259.6" x2="1313.3" y2="259.6" stroke="#000" stroke-width="3.4"/><text x="747.7" y="269.6" text-anchor="end" font-family='"Liberation Sans", Arial, Helvetica, sans-serif' font-weight="bold" font-size="28">100</text><line x1="751.7" y1="168.5" x2="766.7" y2="168.5" stroke="#000" stroke-width="3.4"/><line x1="1298.3" y1="168.5" x2="1313.3" y2="168.5" stroke="#000" stroke-width="3.4"/><text x="747.7" y="178.5" text-anchor="end" font-family='"Liberation Sans", Arial, Helvetica, sans-serif' font-weight="bold" font-size="28">150</text><line x1="751.7" y1="77.3" x2="766.7" y2="77.3" stroke="#000" stroke-width="3.4"/><line x1="1298.3" y1="77.3" x2="1313.3" y2="77.3" stroke="#000" stroke-width="3.4"/><text x="747.7" y="87.3" text-anchor="end" font-family='"Liberation Sans", Arial, Helvetica, sans-serif' font-weight="bold" font-size="28">200</text><text x="1041.2" y="30.2" text-anchor="middle" textLength="312.6" lengthAdjust="spacingAndGlyphs" font-family='"Liberation Sans", Arial, Helvetica, sans-serif' font-weight="bold" font-size="35">EO(Lateral flexion)</text><text x="1039.4" y="532.0" text-anchor="middle" font-family='"Liberation Sans", Arial, Helvetica, sans-serif' font-weight="bold" font-size="30">time(s)</text><text transform="translate(683.0,260.0) rotate(-90)" x="0" y="0" text-anchor="middle" font-family='"Liberation Sans", Arial, Helvetica, sans-serif' font-weight="bold" font-size="30">muscular force(N)</text></g>
<g><clipPath id="c2"><rect x="1428.6" y="75.4" width="550.8000000000002" height="368.9"/></clipPath><path d="M1430.6,399.7 L1432.6,399.1 L1434.6,398.6 L1436.6,398.2 L1438.6,397.8 L1440.6,397.5 L1442.6,397.2 L1444.6,396.9 L1446.6,396.7 L1448.6,396.5 L1450.6,396.4 L1452.6,396.2 L1454.6,396.2 L1456.6,396.1 L1458.6,396.1 L1460.6,396.2 L1462.6,396.2 L1464.6,396.3 L1466.6,396.5 L1468.6,396.6 L1470.6,396.8 L1472.6,397.0 L1474.6,397.3 L1476.6,397.5 L1478.6,397.8 L1480.6,398.1 L1482.6,398.4 L1484.6,398.8 L1486.6,399.1 L1488.6,399.5 L1490.6,399.9 L1492.6,400.4 L1494.6,400.8 L1496.6,401.2 L1498.6,401.7 L1500.6,402.2 L1502.6,402.7 L1504.6,403.1 L1506.6,403.6 L1508.6,404.2 L1510.6,404.7 L1512.6,405.2 L1514.6,405.7 L1516.6,406.2 L1518.6,406.8 L1520.6,407.3 L1522.6,407.8 L1524.6,408.4 L1526.6,408.9 L1528.6,409.4 L1530.6,409.9 L1532.6,410.4 L1534.6,411.0 L1536.6,411.5 L1538.6,411.9 L1540.6,412.4 L1542.6,412.9 L1544.6,413.4 L1546.6,413.8 L1548.6,414.2 L1550.6,414.7 L1552.6,415.0 L1554.6,415.4 L1556.6,415.8 L1558.6,416.1 L1560.6,416.5 L1562.6,416.8 L1564.6,417.0 L1566.6,417.3 L1568.6,417.5 L1570.6,417.7 L1572.6,417.9 L1574.6,418.1 L1576.6,418.2 L1578.6,418.3 L1580.6,418.3 L1582.6,418.4 L1584.6,418.4 L1586.6,418.3 L1588.6,418.2 L1590.6,418.1 L1592.6,418.0 L1594.6,417.8 L1596.6,417.6 L1598.6,417.3 L1600.6,417.0 L1602.6,416.7 L1604.6,416.3 L1606.6,415.9 L1608.6,415.5 L1610.6,415.0 L1612.6,414.5 L1614.6,414.0 L1616.6,413.4 L1618.6,412.8 L1620.6,412.2 L1622.6,411.5 L1624.6,410.8 L1626.6,410.1 L1628.6,409.3 L1630.6,408.5 L1632.6,407.7 L1634.6,406.8 L1636.6,405.9 L1638.6,405.0 L1640.6,404.1 L1642.6,403.1 L1644.6,402.1 L1646.6,401.0 L1648.6,399.9 L1650.6,398.8 L1652.6,397.7 L1654.6,396.6 L1656.6,395.4 L1658.6,394.2 L1660.6,392.9 L1662.6,391.6 L1664.6,390.3 L1666.6,389.0 L1668.6,387.7 L1670.6,386.3 L1672.6,384.9 L1674.6,383.5 L1676.6,382.0 L1678.6,380.5 L1680.6,379.0 L1682.6,377.5 L1684.6,375.9 L1686.6,374.4 L1688.6,372.8 L1690.6,371.1 L1692.6,369.5 L1694.6,367.8 L1696.6,366.2 L1698.6,364.5 L1700.6,362.8 L1702.6,361.1 L1704.6,359.3 L1706.6,357.6 L1708.6,355.8 L1710.6,354.1 L1712.6,352.3 L1714.6,350.6 L1716.6,348.8 L1718.6,347.0 L1720.6,345.2 L1722.6,343.5 L1724.6,341.7 L1726.6,339.9 L1728.6,338.2 L1730.6,336.4 L1732.6,334.7 L1734.6,332.9 L1736.6,331.2 L1738.6,329.5 L1740.6,327.7 L1742.6,326.0 L1744.6,324.4 L1746.6,322.7 L1748.6,321.0 L1750.6,319.4 L1752.6,317.8 L1754.6,316.2 L1756.6,314.6 L1758.6,313.1 L1760.6,311.5 L1762.6,310.0 L1764.6,308.6 L1766.6,307.1 L1768.6,305.7 L1770.6,304.3 L1772.6,302.9 L1774.6,301.5 L1776.6,300.2 L1778.6,298.9 L1780.6,297.6 L1782.6,296.3 L1784.6,295.1 L1786.6,293.9 L1788.6,292.8 L1790.6,291.6 L1792.6,290.5 L1794.6,289.5 L1796.6,288.4 L1798.6,287.4 L1800.6,286.4 L1802.6,285.5 L1804.6,284.6 L1806.6,283.7 L1808.6,282.9 L1810.6,282.1 L1812.6,281.3 L1814.6,280.6 L1816.6,279.9 L1818.6,279.3 L1820.6,278.7 L1822.6,278.1 L1824.6,277.6 L1826.6,277.1 L1828.6,276.6 L1830.6,276.2 L1832.6,275.9 L1834.6,275.5 L1836.6,275.3 L1838.6,275.0 L1840.6,274.8 L1842.6,274.7 L1844.6,274.6 L1846.6,274.5 L1848.6,274.5 L1850.6,274.6 L1852.6,274.7 L1854.6,274.8 L1856.6,275.0 L1858.6,275.2 L1860.6,275.5 L1862.6,275.8 L1864.6,276.2 L1866.6,276.7 L1868.6,277.1 L1870.6,277.7 L1872.6,278.3 L1874.6,278.9 L1876.6,279.6 L1878.6,280.4 L1880.6,281.2 L1882.6,282.1 L1884.6,283.0 L1886.6,284.0 L1888.6,285.0 L1890.6,286.1 L1892.6,287.2 L1894.6,288.4 L1896.6,289.6 L1898.6,290.8 L1900.6,292.1 L1902.6,293.4 L1904.6,294.8 L1906.6,296.2 L1908.6,297.7 L1910.6,299.1 L1912.6,300.6 L1914.6,302.2 L1916.6,303.7 L1918.6,305.3 L1920.6,307.0 L1922.6,308.6 L1924.6,310.3 L1926.6,312.0 L1928.6,313.7 L1930.6,315.5 L1932.6,317.2 L1934.6,319.0 L1936.6,320.8 L1938.6,322.6 L1940.6,324.4 L1942.6,326.3 L1944.6,328.1 L1946.6,330.0 L1948.6,331.8 L1950.6,333.7 L1952.6,335.6 L1954.6,337.4 L1956.6,339.3 L1958.6,341.2 L1960.6,343.1 L1962.6,345.0 L1964.6,346.8 L1966.6,348.7 L1968.6,350.6 L1970.6,352.4 L1972.6,354.3 L1974.6,356.1 L1976.6,357.9 L1977.4,358.7" fill="none" stroke="#999" stroke-width="3.4" stroke-linecap="round" stroke-linejoin="round" stroke-dasharray="7.5 10.5" clip-path="url(#c2)"/><path d="M1430.6,397.0 L1432.6,396.6 L1434.6,396.2 L1436.6,395.9 L1438.6,395.6 L1440.6,395.3 L1442.6,395.1 L1444.6,394.9 L1446.6,394.8 L1448.6,394.7 L1450.6,394.6 L1452.6,394.5 L1454.6,394.5 L1456.6,394.5 L1458.6,394.6 L1460.6,394.6 L1462.6,394.7 L1464.6,394.9 L1466.6,395.0 L1468.6,395.2 L1470.6,395.4 L1472.6,395.6 L1474.6,395.9 L1476.6,396.1 L1478.6,396.4 L1480.6,396.7 L1482.6,397.1 L1484.6,397.4 L1486.6,397.8 L1488.6,398.2 L1490.6,398.6 L1492.6,399.0 L1494.6,399.4 L1496.6,399.8 L1498.6,400.3 L1500.6,400.7 L1502.6,401.2 L1504.6,401.6 L1506.6,402.1 L1508.6,402.6 L1510.6,403.1 L1512.6,403.6 L1514.6,404.1 L1516.6,404.6 L1518.6,405.1 L1520.6,405.6 L1522.6,406.1 L1524.6,406.6 L1526.6,407.1 L1528.6,407.6 L1530.6,408.1 L1532.6,408.6 L1534.6,409.1 L1536.6,409.5 L1538.6,410.0 L1540.6,410.5 L1542.6,410.9 L1544.6,411.4 L1546.6,411.8 L1548.6,412.2 L1550.6,412.6 L1552.6,413.0 L1554.6,413.4 L1556.6,413.7 L1558.6,414.1 L1560.6,414.4 L1562.6,414.7 L1564.6,415.0 L1566.6,415.2 L1568.6,415.5 L1570.6,415.7 L1572.6,415.9 L1574.6,416.1 L1576.6,416.2 L1578.6,416.3 L1580.6,416.4 L1582.6,416.5 L1584.6,416.5 L1586.6,416.5 L1588.6,416.5 L1590.6,416.4 L1592.6,416.3 L1594.6,416.2 L1596.6,416.0 L1598.6,415.8 L1600.6,415.6 L1602.6,415.3 L1604.6,415.0 L1606.6,414.7 L1608.6,414.3 L1610.6,413.8 L1612.6,413.4 L1614.6,412.9 L1616.6,412.3 L1618.6,411.7 L1620.6,411.0 L1622.6,410.3 L1624.6,409.6 L1626.6,408.8 L1628.6,408.0 L1630.6,407.1 L1632.6,406.2 L1634.6,405.3 L1636.6,404.3 L1638.6,403.3 L1640.6,402.2 L1642.6,401.1 L1644.6,400.0 L1646.6,398.8 L1648.6,397.6 L1650.6,396.4 L1652.6,395.1 L1654.6,393.8 L1656.6,392.5 L1658.6,391.1 L1660.6,389.7 L1662.6,388.2 L1664.6,386.8 L1666.6,385.3 L1668.6,383.7 L1670.6,382.2 L1672.6,380.6 L1674.6,379.0 L1676.6,377.3 L1678.6,375.7 L1680.6,374.0 L1682.6,372.2 L1684.6,370.5 L1686.6,368.7 L1688.6,366.9 L1690.6,365.1 L1692.6,363.3 L1694.6,361.5 L1696.6,359.6 L1698.6,357.7 L1700.6,355.8 L1702.6,353.9 L1704.6,352.0 L1706.6,350.1 L1708.6,348.1 L1710.6,346.2 L1712.6,344.2 L1714.6,342.3 L1716.6,340.3 L1718.6,338.4 L1720.6,336.4 L1722.6,334.5 L1724.6,332.5 L1726.6,330.6 L1728.6,328.7 L1730.6,326.7 L1732.6,324.8 L1734.6,322.9 L1736.6,321.0 L1738.6,319.1 L1740.6,317.2 L1742.6,315.4 L1744.6,313.5 L1746.6,311.7 L1748.6,309.9 L1750.6,308.1 L1752.6,306.4 L1754.6,304.6 L1756.6,302.9 L1758.6,301.2 L1760.6,299.6 L1762.6,297.9 L1764.6,296.3 L1766.6,294.7 L1768.6,293.2 L1770.6,291.7 L1772.6,290.2 L1774.6,288.7 L1776.6,287.2 L1778.6,285.8 L1780.6,284.5 L1782.6,283.1 L1784.6,281.8 L1786.6,280.5 L1788.6,279.3 L1790.6,278.0 L1792.6,276.9 L1794.6,275.7 L1796.6,274.6 L1798.6,273.5 L1800.6,272.5 L1802.6,271.5 L1804.6,270.5 L1806.6,269.6 L1808.6,268.7 L1810.6,267.8 L1812.6,267.0 L1814.6,266.3 L1816.6,265.5 L1818.6,264.8 L1820.6,264.2 L1822.6,263.6 L1824.6,263.0 L1826.6,262.5 L1828.6,262.1 L1830.6,261.7 L1832.6,261.3 L1834.6,260.9 L1836.6,260.7 L1838.6,260.4 L1840.6,260.2 L1842.6,260.1 L1844.6,260.0 L1846.6,260.0 L1848.6,260.0 L1850.6,260.1 L1852.6,260.2 L1854.6,260.4 L1856.6,260.6 L1858.6,260.9 L1860.6,261.2 L1862.6,261.6 L1864.6,262.0 L1866.6,262.5 L1868.6,263.1 L1870.6,263.7 L1872.6,264.3 L1874.6,265.0 L1876.6,265.7 L1878.6,266.5 L1880.6,267.4 L1882.6,268.3 L1884.6,269.2 L1886.6,270.2 L1888.6,271.3 L1890.6,272.3 L1892.6,273.5 L1894.6,274.6 L1896.6,275.9 L1898.6,277.1 L1900.6,278.4 L1902.6,279.8 L1904.6,281.1 L1906.6,282.6 L1908.6,284.0 L1910.6,285.6 L1912.6,287.1 L1914.6,288.7 L1916.6,290.3 L1918.6,292.0 L1920.6,293.7 L1922.6,295.4 L1924.6,297.2 L1926.6,299.0 L1928.6,300.8 L1930.6,302.7 L1932.6,304.6 L1934.6,306.6 L1936.6,308.5 L1938.6,310.6 L1940.6,312.6 L1942.6,314.7 L1944.6,316.8 L1946.6,318.9 L1948.6,321.1 L1950.6,323.2 L1952.6,325.5 L1954.6,327.7 L1956.6,330.0 L1958.6,332.3 L1960.6,334.6 L1962.6,336.9 L1964.6,339.3 L1966.6,341.7 L1968.6,344.1 L1970.6,346.6 L1972.6,349.0 L1974.6,351.5 L1976.6,354.0 L1977.4,355.0" fill="none" stroke="#999" stroke-width="3.4" stroke-linecap="round" stroke-linejoin="round" clip-path="url(#c2)"/><path d="M1430.6,383.6 L1432.6,383.4 L1434.6,383.2 L1436.6,383.1 L1438.6,383.0 L1440.6,383.0 L1442.6,383.0 L1444.6,383.1 L1446.6,383.2 L1448.6,383.4 L1450.6,383.6 L1452.6,383.8 L1454.6,384.1 L1456.6,384.4 L1458.6,384.7 L1460.6,385.1 L1462.6,385.6 L1464.6,386.0 L1466.6,386.5 L1468.6,387.0 L1470.6,387.6 L1472.6,388.1 L1474.6,388.7 L1476.6,389.4 L1478.6,390.0 L1480.6,390.7 L1482.6,391.4 L1484.6,392.1 L1486.6,392.8 L1488.6,393.5 L1490.6,394.3 L1492.6,395.0 L1494.6,395.8 L1496.6,396.6 L1498.6,397.4 L1500.6,398.2 L1502.6,399.0 L1504.6,399.8 L1506.6,400.7 L1508.6,401.5 L1510.6,402.3 L1512.6,403.1 L1514.6,403.9 L1516.6,404.7 L1518.6,405.6 L1520.6,406.4 L1522.6,407.2 L1524.6,407.9 L1526.6,408.7 L1528.6,409.5 L1530.6,410.2 L1532.6,411.0 L1534.6,411.7 L1536.6,412.4 L1538.6,413.1 L1540.6,413.7 L1542.6,414.4 L1544.6,415.0 L1546.6,415.6 L1548.6,416.1 L1550.6,416.7 L1552.6,417.2 L1554.6,417.6 L1556.6,418.1 L1558.6,418.5 L1560.6,418.9 L1562.6,419.2 L1564.6,419.5 L1566.6,419.8 L1568.6,420.0 L1570.6,420.2 L1572.6,420.4 L1574.6,420.5 L1576.6,420.5 L1578.6,420.5 L1580.6,420.5 L1582.6,420.4 L1584.6,420.2 L1586.6,420.0 L1588.6,419.8 L1590.6,419.5 L1592.6,419.1 L1594.6,418.7 L1596.6,418.2 L1598.6,417.7 L1600.6,417.1 L1602.6,416.5 L1604.6,415.8 L1606.6,415.1 L1608.6,414.3 L1610.6,413.4 L1612.6,412.5 L1614.6,411.6 L1616.6,410.6 L1618.6,409.6 L1620.6,408.5 L1622.6,407.3 L1624.6,406.2 L1626.6,405.0 L1628.6,403.7 L1630.6,402.4 L1632.6,401.1 L1634.6,399.7 L1636.6,398.3 L1638.6,396.8 L1640.6,395.3 L1642.6,393.8 L1644.6,392.2 L1646.6,390.6 L1648.6,389.0 L1650.6,387.3 L1652.6,385.7 L1654.6,383.9 L1656.6,382.2 L1658.6,380.4 L1660.6,378.6 L1662.6,376.7 L1664.6,374.9 L1666.6,373.0 L1668.6,371.1 L1670.6,369.1 L1672.6,367.1 L1674.6,365.2 L1676.6,363.2 L1678.6,361.1 L1680.6,359.1 L1682.6,357.0 L1684.6,354.9 L1686.6,352.8 L1688.6,350.7 L1690.6,348.6 L1692.6,346.4 L1694.6,344.3 L1696.6,342.1 L1698.6,339.9 L1700.6,337.7 L1702.6,335.5 L1704.6,333.3 L1706.6,331.1 L1708.6,328.8 L1710.6,326.6 L1712.6,324.4 L1714.6,322.1 L1716.6,319.9 L1718.6,317.6 L1720.6,315.4 L1722.6,313.1 L1724.6,310.8 L1726.6,308.6 L1728.6,306.3 L1730.6,304.1 L1732.6,301.8 L1734.6,299.6 L1736.6,297.3 L1738.6,295.1 L1740.6,292.9 L1742.6,290.7 L1744.6,288.5 L1746.6,286.3 L1748.6,284.1 L1750.6,282.0 L1752.6,279.9 L1754.6,277.8 L1756.6,275.7 L1758.6,273.6 L1760.6,271.6 L1762.6,269.6 L1764.6,267.6 L1766.6,265.7 L1768.6,263.8 L1770.6,261.9 L1772.6,260.1 L1774.6,258.3 L1776.6,256.6 L1778.6,254.9 L1780.6,253.2 L1782.6,251.6 L1784.6,250.0 L1786.6,248.5 L1788.6,247.0 L1790.6,245.6 L1792.6,244.3 L1794.6,243.0 L1796.6,241.7 L1798.6,240.6 L1800.6,239.4 L1802.6,238.4 L1804.6,237.4 L1806.6,236.4 L1808.6,235.5 L1810.6,234.7 L1812.6,233.9 L1814.6,233.2 L1816.6,232.5 L1818.6,231.9 L1820.6,231.4 L1822.6,230.9 L1824.6,230.5 L1826.6,230.1 L1828.6,229.8 L1830.6,229.5 L1832.6,229.3 L1834.6,229.1 L1836.6,229.0 L1838.6,229.0 L1840.6,229.0 L1842.6,229.1 L1844.6,229.2 L1846.6,229.4 L1848.6,229.6 L1850.6,229.9 L1852.6,230.2 L1854.6,230.6 L1856.6,231.1 L1858.6,231.6 L1860.6,232.1 L1862.6,232.7 L1864.6,233.4 L1866.6,234.1 L1868.6,234.9 L1870.6,235.7 L1872.6,236.6 L1874.6,237.5 L1876.6,238.4 L1878.6,239.4 L1880.6,240.5 L1882.6,241.6 L1884.6,242.7 L1886.6,243.9 L1888.6,245.1 L1890.6,246.4 L1892.6,247.7 L1894.6,249.0 L1896.6,250.4 L1898.6,251.8 L1900.6,253.2 L1902.6,254.7 L1904.6,256.1 L1906.6,257.7 L1908.6,259.2 L1910.6,260.8 L1912.6,262.4 L1914.6,264.0 L1916.6,265.6 L1918.6,267.3 L1920.6,269.0 L1922.6,270.7 L1924.6,272.4 L1926.6,274.1 L1928.6,275.9 L1930.6,277.6 L1932.6,279.4 L1934.6,281.2 L1936.6,283.0 L1938.6,284.8 L1940.6,286.6 L1942.6,288.4 L1944.6,290.2 L1946.6,292.0 L1948.6,293.9 L1950.6,295.7 L1952.6,297.5 L1954.6,299.3 L1956.6,301.2 L1958.6,303.0 L1960.6,304.8 L1962.6,306.6 L1964.6,308.5 L1966.6,310.3 L1968.6,312.1 L1970.6,313.9 L1972.6,315.6 L1974.6,317.4 L1976.6,319.2 L1977.4,319.9" fill="none" stroke="#000" stroke-width="3.4" stroke-linecap="round" stroke-linejoin="round" stroke-dasharray="7.5 10.5" clip-path="url(#c2)"/><path d="M1430.6,363.9 L1432.6,363.8 L1434.6,363.8 L1436.6,363.9 L1438.6,364.0 L1440.6,364.3 L1442.6,364.6 L1444.6,364.9 L1446.6,365.3 L1448.6,365.8 L1450.6,366.4 L1452.6,367.0 L1454.6,367.7 L1456.6,368.4 L1458.6,369.1 L1460.6,369.9 L1462.6,370.8 L1464.6,371.7 L1466.6,372.7 L1468.6,373.6 L1470.6,374.7 L1472.6,375.7 L1474.6,376.8 L1476.6,377.9 L1478.6,379.1 L1480.6,380.2 L1482.6,381.4 L1484.6,382.7 L1486.6,383.9 L1488.6,385.1 L1490.6,386.4 L1492.6,387.7 L1494.6,389.0 L1496.6,390.2 L1498.6,391.5 L1500.6,392.8 L1502.6,394.1 L1504.6,395.4 L1506.6,396.7 L1508.6,398.0 L1510.6,399.2 L1512.6,400.5 L1514.6,401.7 L1516.6,403.0 L1518.6,404.2 L1520.6,405.4 L1522.6,406.5 L1524.6,407.7 L1526.6,408.8 L1528.6,409.9 L1530.6,410.9 L1532.6,411.9 L1534.6,412.9 L1536.6,413.9 L1538.6,414.8 L1540.6,415.7 L1542.6,416.6 L1544.6,417.4 L1546.6,418.2 L1548.6,418.9 L1550.6,419.6 L1552.6,420.3 L1554.6,420.9 L1556.6,421.5 L1558.6,422.0 L1560.6,422.5 L1562.6,422.9 L1564.6,423.3 L1566.6,423.6 L1568.6,423.8 L1570.6,424.0 L1572.6,424.2 L1574.6,424.3 L1576.6,424.3 L1578.6,424.3 L1580.6,424.2 L1582.6,424.0 L1584.6,423.8 L1586.6,423.5 L1588.6,423.1 L1590.6,422.7 L1592.6,422.2 L1594.6,421.6 L1596.6,420.9 L1598.6,420.2 L1600.6,419.4 L1602.6,418.5 L1604.6,417.6 L1606.6,416.6 L1608.6,415.5 L1610.6,414.3 L1612.6,413.1 L1614.6,411.8 L1616.6,410.5 L1618.6,409.0 L1620.6,407.5 L1622.6,406.0 L1624.6,404.4 L1626.6,402.7 L1628.6,400.9 L1630.6,399.1 L1632.6,397.2 L1634.6,395.3 L1636.6,393.3 L1638.6,391.2 L1640.6,389.1 L1642.6,386.9 L1644.6,384.6 L1646.6,382.3 L1648.6,380.0 L1650.6,377.5 L1652.6,375.0 L1654.6,372.5 L1656.6,369.9 L1658.6,367.3 L1660.6,364.5 L1662.6,361.8 L1664.6,359.0 L1666.6,356.1 L1668.6,353.2 L1670.6,350.2 L1672.6,347.2 L1674.6,344.1 L1676.6,341.1 L1678.6,337.9 L1680.6,334.8 L1682.6,331.6 L1684.6,328.3 L1686.6,325.1 L1688.6,321.8 L1690.6,318.5 L1692.6,315.2 L1694.6,311.8 L1696.6,308.4 L1698.6,305.1 L1700.6,301.7 L1702.6,298.2 L1704.6,294.8 L1706.6,291.4 L1708.6,288.0 L1710.6,284.5 L1712.6,281.1 L1714.6,277.6 L1716.6,274.2 L1718.6,270.8 L1720.6,267.3 L1722.6,263.9 L1724.6,260.5 L1726.6,257.1 L1728.6,253.8 L1730.6,250.4 L1732.6,247.1 L1734.6,243.7 L1736.6,240.5 L1738.6,237.2 L1740.6,234.0 L1742.6,230.7 L1744.6,227.6 L1746.6,224.4 L1748.6,221.3 L1750.6,218.3 L1752.6,215.2 L1754.6,212.3 L1756.6,209.3 L1758.6,206.4 L1760.6,203.6 L1762.6,200.8 L1764.6,198.0 L1766.6,195.3 L1768.6,192.7 L1770.6,190.1 L1772.6,187.5 L1774.6,185.0 L1776.6,182.6 L1778.6,180.3 L1780.6,178.0 L1782.6,175.8 L1784.6,173.6 L1786.6,171.5 L1788.6,169.5 L1790.6,167.6 L1792.6,165.7 L1794.6,163.9 L1796.6,162.2 L1798.6,160.6 L1800.6,159.0 L1802.6,157.5 L1804.6,156.1 L1806.6,154.8 L1808.6,153.6 L1810.6,152.4 L1812.6,151.3 L1814.6,150.3 L1816.6,149.4 L1818.6,148.6 L1820.6,147.8 L1822.6,147.1 L1824.6,146.5 L1826.6,146.0 L1828.6,145.5 L1830.6,145.2 L1832.6,144.9 L1834.6,144.7 L1836.6,144.5 L1838.6,144.5 L1840.6,144.5 L1842.6,144.6 L1844.6,144.8 L1846.6,145.1 L1848.6,145.4 L1850.6,145.9 L1852.6,146.4 L1854.6,147.0 L1856.6,147.6 L1858.6,148.4 L1860.6,149.2 L1862.6,150.1 L1864.6,151.1 L1866.6,152.1 L1868.6,153.2 L1870.6,154.4 L1872.6,155.6 L1874.6,156.9 L1876.6,158.3 L1878.6,159.8 L1880.6,161.3 L1882.6,162.8 L1884.6,164.4 L1886.6,166.1 L1888.6,167.8 L1890.6,169.6 L1892.6,171.5 L1894.6,173.4 L1896.6,175.3 L1898.6,177.3 L1900.6,179.3 L1902.6,181.4 L1904.6,183.5 L1906.6,185.7 L1908.6,187.9 L1910.6,190.2 L1912.6,192.5 L1914.6,194.8 L1916.6,197.2 L1918.6,199.6 L1920.6,202.0 L1922.6,204.5 L1924.6,207.0 L1926.6,209.5 L1928.6,212.0 L1930.6,214.6 L1932.6,217.2 L1934.6,219.8 L1936.6,222.5 L1938.6,225.2 L1940.6,227.8 L1942.6,230.6 L1944.6,233.3 L1946.6,236.0 L1948.6,238.8 L1950.6,241.5 L1952.6,244.3 L1954.6,247.1 L1956.6,249.9 L1958.6,252.6 L1960.6,255.4 L1962.6,258.2 L1964.6,261.0 L1966.6,263.9 L1968.6,266.7 L1970.6,269.5 L1972.6,272.3 L1974.6,275.0 L1976.6,277.8 L1977.4,278.9" fill="none" stroke="#000" stroke-width="3.4" stroke-linecap="round" stroke-linejoin="round" clip-path="url(#c2)"/><rect x="1430.6" y="77.4" width="546.8000000000002" height="364.9" fill="none" stroke="#000" stroke-width="3.4" stroke-linejoin="miter"/><line x1="1430.6" y1="442.3" x2="1430.6" y2="457.3" stroke="#000" stroke-width="3.4"/><line x1="1430.6" y1="77.4" x2="1430.6" y2="92.4" stroke="#000" stroke-width="3.4"/><text x="1430.6" y="488.2" text-anchor="middle" font-family='"Liberation Sans", Arial, Helvetica, sans-serif' font-weight="bold" font-size="28">0</text><line x1="1567.3" y1="442.3" x2="1567.3" y2="457.3" stroke="#000" stroke-width="3.4"/><line x1="1567.3" y1="77.4" x2="1567.3" y2="92.4" stroke="#000" stroke-width="3.4"/><text x="1567.3" y="488.2" text-anchor="middle" font-family='"Liberation Sans", Arial, Helvetica, sans-serif' font-weight="bold" font-size="28">5</text><line x1="1704.0" y1="442.3" x2="1704.0" y2="457.3" stroke="#000" stroke-width="3.4"/><line x1="1704.0" y1="77.4" x2="1704.0" y2="92.4" stroke="#000" stroke-width="3.4"/><text x="1704.0" y="488.2" text-anchor="middle" font-family='"Liberation Sans", Arial, Helvetica, sans-serif' font-weight="bold" font-size="28">10</text><line x1="1840.7" y1="442.3" x2="1840.7" y2="457.3" stroke="#000" stroke-width="3.4"/><line x1="1840.7" y1="77.4" x2="1840.7" y2="92.4" stroke="#000" stroke-width="3.4"/><text x="1840.7" y="488.2" text-anchor="middle" font-family='"Liberation Sans", Arial, Helvetica, sans-serif' font-weight="bold" font-size="28">15</text><line x1="1977.4" y1="442.3" x2="1977.4" y2="457.3" stroke="#000" stroke-width="3.4"/><line x1="1977.4" y1="77.4" x2="1977.4" y2="92.4" stroke="#000" stroke-width="3.4"/><text x="1977.4" y="488.2" text-anchor="middle" font-family='"Liberation Sans", Arial, Helvetica, sans-serif' font-weight="bold" font-size="28">20</text><line x1="1415.6" y1="442.3" x2="1430.6" y2="442.3" stroke="#000" stroke-width="3.4"/><line x1="1962.4" y1="442.3" x2="1977.4" y2="442.3" stroke="#000" stroke-width="3.4"/><text x="1411.6" y="452.3" text-anchor="end" font-family='"Liberation Sans", Arial, Helvetica, sans-serif' font-weight="bold" font-size="28">0</text><line x1="1415.6" y1="369.3" x2="1430.6" y2="369.3" stroke="#000" stroke-width="3.4"/><line x1="1962.4" y1="369.3" x2="1977.4" y2="369.3" stroke="#000" stroke-width="3.4"/><text x="1411.6" y="379.3" text-anchor="end" font-family='"Liberation Sans", Arial, Helvetica, sans-serif' font-weight="bold" font-size="28">2</text><line x1="1415.6" y1="296.3" x2="1430.6" y2="296.3" stroke="#000" stroke-width="3.4"/><line x1="1962.4" y1="296.3" x2="1977.4" y2="296.3" stroke="#000" stroke-width="3.4"/><text x="1411.6" y="306.3" text-anchor="end" font-family='"Liberation Sans", Arial, Helvetica, sans-serif' font-weight="bold" font-size="28">4</text><line x1="1415.6" y1="223.4" x2="1430.6" y2="223.4" stroke="#000" stroke-width="3.4"/><line x1="1962.4" y1="223.4" x2="1977.4" y2="223.4" stroke="#000" stroke-width="3.4"/><text x="1411.6" y="233.4" text-anchor="end" font-family='"Liberation Sans", Arial, Helvetica, sans-serif' font-weight="bold" font-size="28">6</text><line x1="1415.6" y1="150.4" x2="1430.6" y2="150.4" stroke="#000" stroke-width="3.4"/><line x1="1962.4" y1="150.4" x2="1977.4" y2="150.4" stroke="#000" stroke-width="3.4"/><text x="1411.6" y="160.4" text-anchor="end" font-family='"Liberation Sans", Arial, Helvetica, sans-serif' font-weight="bold" font-size="28">8</text><line x1="1415.6" y1="77.4" x2="1430.6" y2="77.4" stroke="#000" stroke-width="3.4"/><line x1="1962.4" y1="77.4" x2="1977.4" y2="77.4" stroke="#000" stroke-width="3.4"/><text x="1411.6" y="87.4" text-anchor="end" font-family='"Liberation Sans", Arial, Helvetica, sans-serif' font-weight="bold" font-size="28">10</text><text x="1705.7" y="29.7" text-anchor="middle" textLength="408.7" lengthAdjust="spacingAndGlyphs" font-family='"Liberation Sans", Arial, Helvetica, sans-serif' font-weight="bold" font-size="35">EO(Flexion &amp; extension)</text><text x="1703.6" y="532.0" text-anchor="middle" font-family='"Liberation Sans", Arial, Helvetica, sans-serif' font-weight="bold" font-size="30">time(s)</text><text transform="translate(1361.5,260.0) rotate(-90)" x="0" y="0" text-anchor="middle" font-family='"Liberation Sans", Arial, Helvetica, sans-serif' font-weight="bold" font-size="30">muscular force(N)</text></g>
<g><clipPath id="c3"><rect x="112.9" y="643.9" width="543.9" height="364.20000000000005"/></clipPath><path d="M114.9,824.2 L116.9,825.4 L118.9,826.6 L120.9,827.9 L122.9,829.3 L124.9,830.7 L126.9,832.1 L128.9,833.6 L130.9,835.1 L132.9,836.7 L134.9,838.3 L136.9,839.9 L138.9,841.6 L140.9,843.3 L142.9,845.0 L144.9,846.8 L146.9,848.6 L148.9,850.4 L150.9,852.2 L152.9,854.1 L154.9,856.0 L156.9,857.8 L158.9,859.7 L160.9,861.6 L162.9,863.6 L164.9,865.5 L166.9,867.4 L168.9,869.3 L170.9,871.2 L172.9,873.2 L174.9,875.1 L176.9,877.0 L178.9,878.9 L180.9,880.8 L182.9,882.6 L184.9,884.5 L186.9,886.3 L188.9,888.1 L190.9,889.9 L192.9,891.7 L194.9,893.4 L196.9,895.2 L198.9,896.8 L200.9,898.5 L202.9,900.1 L204.9,901.7 L206.9,903.2 L208.9,904.7 L210.9,906.2 L212.9,907.6 L214.9,908.9 L216.9,910.2 L218.9,911.5 L220.9,912.7 L222.9,913.8 L224.9,914.9 L226.9,915.9 L228.9,916.9 L230.9,917.7 L232.9,918.6 L234.9,919.3 L236.9,920.0 L238.9,920.6 L240.9,921.1 L242.9,921.6 L244.9,921.9 L246.9,922.2 L248.9,922.4 L250.9,922.5 L252.9,922.6 L254.9,922.6 L256.9,922.4 L258.9,922.3 L260.9,922.0 L262.9,921.7 L264.9,921.3 L266.9,920.9 L268.9,920.3 L270.9,919.8 L272.9,919.1 L274.9,918.4 L276.9,917.7 L278.9,916.8 L280.9,916.0 L282.9,915.0 L284.9,914.1 L286.9,913.0 L288.9,912.0 L290.9,910.9 L292.9,909.7 L294.9,908.5 L296.9,907.2 L298.9,905.9 L300.9,904.6 L302.9,903.3 L304.9,901.9 L306.9,900.4 L308.9,899.0 L310.9,897.5 L312.9,896.0 L314.9,894.4 L316.9,892.9 L318.9,891.3 L320.9,889.7 L322.9,888.0 L324.9,886.4 L326.9,884.7 L328.9,883.0 L330.9,881.3 L332.9,879.6 L334.9,877.9 L336.9,876.2 L338.9,874.5 L340.9,872.7 L342.9,871.0 L344.9,869.3 L346.9,867.5 L348.9,865.8 L350.9,864.0 L352.9,862.3 L354.9,860.6 L356.9,858.9 L358.9,857.2 L360.9,855.5 L362.9,853.8 L364.9,852.2 L366.9,850.5 L368.9,848.9 L370.9,847.3 L372.9,845.7 L374.9,844.2 L376.9,842.6 L378.9,841.1 L380.9,839.6 L382.9,838.2 L384.9,836.8 L386.9,835.4 L388.9,834.0 L390.9,832.6 L392.9,831.3 L394.9,830.0 L396.9,828.7 L398.9,827.5 L400.9,826.3 L402.9,825.1 L404.9,823.9 L406.9,822.8 L408.9,821.6 L410.9,820.5 L412.9,819.5 L414.9,818.4 L416.9,817.4 L418.9,816.4 L420.9,815.4 L422.9,814.4 L424.9,813.5 L426.9,812.6 L428.9,811.7 L430.9,810.9 L432.9,810.0 L434.9,809.2 L436.9,808.4 L438.9,807.6 L440.9,806.9 L442.9,806.1 L444.9,805.4 L446.9,804.8 L448.9,804.1 L450.9,803.4 L452.9,802.8 L454.9,802.2 L456.9,801.6 L458.9,801.1 L460.9,800.5 L462.9,800.0 L464.9,799.5 L466.9,799.0 L468.9,798.6 L470.9,798.1 L472.9,797.7 L474.9,797.3 L476.9,796.9 L478.9,796.6 L480.9,796.2 L482.9,795.9 L484.9,795.6 L486.9,795.3 L488.9,795.1 L490.9,794.8 L492.9,794.6 L494.9,794.4 L496.9,794.2 L498.9,794.0 L500.9,793.8 L502.9,793.7 L504.9,793.6 L506.9,793.4 L508.9,793.3 L510.9,793.3 L512.9,793.2 L514.9,793.2 L516.9,793.1 L518.9,793.1 L520.9,793.1 L522.9,793.2 L524.9,793.2 L526.9,793.2 L528.9,793.3 L530.9,793.4 L532.9,793.5 L534.9,793.6 L536.9,793.7 L538.9,793.9 L540.9,794.0 L542.9,794.2 L544.9,794.4 L546.9,794.6 L548.9,794.8 L550.9,795.0 L552.9,795.3 L554.9,795.5 L556.9,795.8 L558.9,796.1 L560.9,796.3 L562.9,796.6 L564.9,797.0 L566.9,797.3 L568.9,797.6 L570.9,798.0 L572.9,798.4 L574.9,798.7 L576.9,799.1 L578.9,799.5 L580.9,799.9 L582.9,800.4 L584.9,800.8 L586.9,801.2 L588.9,801.7 L590.9,802.2 L592.9,802.6 L594.9,803.1 L596.9,803.6 L598.9,804.1 L600.9,804.6 L602.9,805.2 L604.9,805.7 L606.9,806.2 L608.9,806.8 L610.9,807.4 L612.9,807.9 L614.9,808.5 L616.9,809.1 L618.9,809.7 L620.9,810.3 L622.9,810.9 L624.9,811.5 L626.9,812.2 L628.9,812.8 L630.9,813.5 L632.9,814.1 L634.9,814.8 L636.9,815.4 L638.9,816.1 L640.9,816.8 L642.9,817.5 L644.9,818.2 L646.9,818.9 L648.9,819.6 L650.9,820.3 L652.9,821.0 L654.8,821.7" fill="none" stroke="#999" stroke-width="3.4" stroke-linecap="round" stroke-linejoin="round" stroke-dasharray="7.5 10.5" clip-path="url(#c3)"/><path d="M114.9,870.1 L116.9,868.3 L118.9,866.5 L120.9,864.7 L122.9,863.0 L124.9,861.4 L126.9,859.7 L128.9,858.1 L130.9,856.6 L132.9,855.0 L134.9,853.5 L136.9,852.1 L138.9,850.6 L140.9,849.2 L142.9,847.9 L144.9,846.5 L146.9,845.2 L148.9,843.9 L150.9,842.7 L152.9,841.5 L154.9,840.3 L156.9,839.2 L158.9,838.0 L160.9,836.9 L162.9,835.9 L164.9,834.9 L166.9,833.9 L168.9,832.9 L170.9,831.9 L172.9,831.0 L174.9,830.1 L176.9,829.3 L178.9,828.4 L180.9,827.6 L182.9,826.8 L184.9,826.1 L186.9,825.4 L188.9,824.6 L190.9,824.0 L192.9,823.3 L194.9,822.7 L196.9,822.1 L198.9,821.5 L200.9,820.9 L202.9,820.4 L204.9,819.9 L206.9,819.4 L208.9,818.9 L210.9,818.5 L212.9,818.1 L214.9,817.7 L216.9,817.3 L218.9,816.9 L220.9,816.6 L222.9,816.3 L224.9,816.0 L226.9,815.7 L228.9,815.5 L230.9,815.2 L232.9,815.0 L234.9,814.8 L236.9,814.6 L238.9,814.5 L240.9,814.3 L242.9,814.2 L244.9,814.1 L246.9,814.0 L248.9,813.9 L250.9,813.9 L252.9,813.8 L254.9,813.8 L256.9,813.8 L258.9,813.8 L260.9,813.8 L262.9,813.9 L264.9,814.0 L266.9,814.1 L268.9,814.2 L270.9,814.3 L272.9,814.4 L274.9,814.6 L276.9,814.8 L278.9,815.0 L280.9,815.2 L282.9,815.5 L284.9,815.8 L286.9,816.1 L288.9,816.4 L290.9,816.7 L292.9,817.1 L294.9,817.5 L296.9,817.9 L298.9,818.3 L300.9,818.7 L302.9,819.2 L304.9,819.7 L306.9,820.2 L308.9,820.7 L310.9,821.3 L312.9,821.9 L314.9,822.5 L316.9,823.1 L318.9,823.8 L320.9,824.4 L322.9,825.2 L324.9,825.9 L326.9,826.6 L328.9,827.4 L330.9,828.2 L332.9,829.0 L334.9,829.9 L336.9,830.8 L338.9,831.7 L340.9,832.6 L342.9,833.6 L344.9,834.5 L346.9,835.6 L348.9,836.6 L350.9,837.7 L352.9,838.7 L354.9,839.9 L356.9,841.0 L358.9,842.2 L360.9,843.4 L362.9,844.6 L364.9,845.9 L366.9,847.1 L368.9,848.4 L370.9,849.8 L372.9,851.2 L374.9,852.6 L376.9,854.0 L378.9,855.4 L380.9,856.9 L382.9,858.4 L384.9,860.0 L386.9,861.6 L388.9,863.2 L390.9,864.8 L392.9,866.5 L394.9,868.2 L396.9,869.9 L398.9,871.7 L400.9,873.5 L402.9,875.3 L404.9,877.1 L406.9,879.0 L408.9,880.9 L410.9,882.9 L412.9,884.8 L414.9,886.8 L416.9,888.8 L418.9,890.9 L420.9,892.9 L422.9,895.0 L424.9,897.0 L426.9,899.1 L428.9,901.2 L430.9,903.3 L432.9,905.4 L434.9,907.5 L436.9,909.6 L438.9,911.7 L440.9,913.9 L442.9,916.0 L444.9,918.1 L446.9,920.1 L448.9,922.2 L450.9,924.3 L452.9,926.3 L454.9,928.4 L456.9,930.4 L458.9,932.4 L460.9,934.4 L462.9,936.3 L464.9,938.2 L466.9,940.1 L468.9,942.0 L470.9,943.8 L472.9,945.6 L474.9,947.4 L476.9,949.1 L478.9,950.8 L480.9,952.5 L482.9,954.1 L484.9,955.6 L486.9,957.1 L488.9,958.6 L490.9,960.0 L492.9,961.3 L494.9,962.6 L496.9,963.9 L498.9,965.1 L500.9,966.2 L502.9,967.3 L504.9,968.3 L506.9,969.2 L508.9,970.0 L510.9,970.8 L512.9,971.6 L514.9,972.2 L516.9,972.8 L518.9,973.2 L520.9,973.7 L522.9,974.0 L524.9,974.2 L526.9,974.4 L528.9,974.4 L530.9,974.4 L532.9,974.3 L534.9,974.1 L536.9,973.8 L538.9,973.4 L540.9,972.9 L542.9,972.3 L544.9,971.6 L546.9,970.8 L548.9,970.0 L550.9,969.0 L552.9,968.0 L554.9,966.9 L556.9,965.7 L558.9,964.5 L560.9,963.2 L562.9,961.8 L564.9,960.3 L566.9,958.8 L568.9,957.2 L570.9,955.6 L572.9,953.9 L574.9,952.2 L576.9,950.4 L578.9,948.6 L580.9,946.7 L582.9,944.8 L584.9,942.8 L586.9,940.8 L588.9,938.8 L590.9,936.7 L592.9,934.6 L594.9,932.5 L596.9,930.3 L598.9,928.2 L600.9,926.0 L602.9,923.8 L604.9,921.6 L606.9,919.3 L608.9,917.1 L610.9,914.9 L612.9,912.6 L614.9,910.4 L616.9,908.1 L618.9,905.9 L620.9,903.7 L622.9,901.4 L624.9,899.2 L626.9,897.0 L628.9,894.8 L630.9,892.7 L632.9,890.5 L634.9,888.4 L636.9,886.3 L638.9,884.2 L640.9,882.2 L642.9,880.2 L644.9,878.3 L646.9,876.3 L648.9,874.5 L650.9,872.6 L652.9,870.9 L654.8,869.2" fill="none" stroke="#999" stroke-width="3.4" stroke-linecap="round" stroke-linejoin="round" clip-path="url(#c3)"/><path d="M114.9,767.9 L116.9,768.9 L118.9,770.0 L120.9,771.0 L122.9,772.1 L124.9,773.3 L126.9,774.4 L128.9,775.7 L130.9,776.9 L132.9,778.2 L134.9,779.5 L136.9,780.8 L138.9,782.2 L140.9,783.6 L142.9,785.0 L144.9,786.5 L146.9,787.9 L148.9,789.5 L150.9,791.0 L152.9,792.5 L154.9,794.1 L156.9,795.7 L158.9,797.4 L160.9,799.0 L162.9,800.7 L164.9,802.4 L166.9,804.1 L168.9,805.8 L170.9,807.5 L172.9,809.3 L174.9,811.1 L176.9,812.9 L178.9,814.7 L180.9,816.5 L182.9,818.3 L184.9,820.1 L186.9,821.9 L188.9,823.7 L190.9,825.5 L192.9,827.3 L194.9,829.1 L196.9,830.9 L198.9,832.6 L200.9,834.3 L202.9,836.0 L204.9,837.6 L206.9,839.2 L208.9,840.8 L210.9,842.3 L212.9,843.8 L214.9,845.3 L216.9,846.6 L218.9,847.9 L220.9,849.2 L222.9,850.4 L224.9,851.5 L226.9,852.6 L228.9,853.6 L230.9,854.5 L232.9,855.3 L234.9,856.0 L236.9,856.7 L238.9,857.3 L240.9,857.8 L242.9,858.2 L244.9,858.5 L246.9,858.8 L248.9,858.9 L250.9,859.0 L252.9,859.1 L254.9,859.0 L256.9,858.9 L258.9,858.8 L260.9,858.5 L262.9,858.2 L264.9,857.8 L266.9,857.4 L268.9,856.9 L270.9,856.4 L272.9,855.8 L274.9,855.1 L276.9,854.4 L278.9,853.7 L280.9,852.9 L282.9,852.0 L284.9,851.1 L286.9,850.1 L288.9,849.2 L290.9,848.1 L292.9,847.0 L294.9,845.9 L296.9,844.8 L298.9,843.6 L300.9,842.4 L302.9,841.1 L304.9,839.8 L306.9,838.5 L308.9,837.2 L310.9,835.8 L312.9,834.4 L314.9,833.0 L316.9,831.5 L318.9,830.1 L320.9,828.6 L322.9,827.1 L324.9,825.6 L326.9,824.1 L328.9,822.5 L330.9,821.0 L332.9,819.4 L334.9,817.9 L336.9,816.3 L338.9,814.7 L340.9,813.2 L342.9,811.6 L344.9,810.0 L346.9,808.4 L348.9,806.9 L350.9,805.3 L352.9,803.7 L354.9,802.2 L356.9,800.7 L358.9,799.1 L360.9,797.6 L362.9,796.1 L364.9,794.6 L366.9,793.2 L368.9,791.7 L370.9,790.3 L372.9,788.9 L374.9,787.5 L376.9,786.2 L378.9,784.8 L380.9,783.5 L382.9,782.2 L384.9,781.0 L386.9,779.7 L388.9,778.5 L390.9,777.3 L392.9,776.1 L394.9,775.0 L396.9,773.9 L398.9,772.8 L400.9,771.7 L402.9,770.6 L404.9,769.6 L406.9,768.6 L408.9,767.6 L410.9,766.6 L412.9,765.6 L414.9,764.7 L416.9,763.8 L418.9,762.9 L420.9,762.0 L422.9,761.2 L424.9,760.3 L426.9,759.5 L428.9,758.7 L430.9,757.9 L432.9,757.2 L434.9,756.5 L436.9,755.7 L438.9,755.1 L440.9,754.4 L442.9,753.7 L444.9,753.1 L446.9,752.5 L448.9,751.9 L450.9,751.3 L452.9,750.7 L454.9,750.2 L456.9,749.7 L458.9,749.2 L460.9,748.7 L462.9,748.2 L464.9,747.7 L466.9,747.3 L468.9,746.9 L470.9,746.5 L472.9,746.1 L474.9,745.7 L476.9,745.4 L478.9,745.0 L480.9,744.7 L482.9,744.4 L484.9,744.1 L486.9,743.9 L488.9,743.6 L490.9,743.4 L492.9,743.2 L494.9,743.0 L496.9,742.8 L498.9,742.6 L500.9,742.4 L502.9,742.3 L504.9,742.2 L506.9,742.1 L508.9,742.0 L510.9,741.9 L512.9,741.8 L514.9,741.8 L516.9,741.7 L518.9,741.7 L520.9,741.7 L522.9,741.7 L524.9,741.7 L526.9,741.7 L528.9,741.8 L530.9,741.8 L532.9,741.9 L534.9,742.0 L536.9,742.1 L538.9,742.2 L540.9,742.3 L542.9,742.4 L544.9,742.6 L546.9,742.7 L548.9,742.9 L550.9,743.1 L552.9,743.3 L554.9,743.5 L556.9,743.7 L558.9,743.9 L560.9,744.2 L562.9,744.4 L564.9,744.7 L566.9,744.9 L568.9,745.2 L570.9,745.5 L572.9,745.8 L574.9,746.1 L576.9,746.5 L578.9,746.8 L580.9,747.1 L582.9,747.5 L584.9,747.9 L586.9,748.2 L588.9,748.6 L590.9,749.0 L592.9,749.4 L594.9,749.8 L596.9,750.2 L598.9,750.7 L600.9,751.1 L602.9,751.6 L604.9,752.0 L606.9,752.5 L608.9,753.0 L610.9,753.4 L612.9,753.9 L614.9,754.4 L616.9,754.9 L618.9,755.4 L620.9,756.0 L622.9,756.5 L624.9,757.0 L626.9,757.5 L628.9,758.1 L630.9,758.6 L632.9,759.2 L634.9,759.8 L636.9,760.3 L638.9,760.9 L640.9,761.5 L642.9,762.1 L644.9,762.7 L646.9,763.3 L648.9,763.9 L650.9,764.5 L652.9,765.1 L654.8,765.7" fill="none" stroke="#000" stroke-width="3.4" stroke-linecap="round" stroke-linejoin="round" stroke-dasharray="7.5 10.5" clip-path="url(#c3)"/><path d="M114.9,814.5 L116.9,812.6 L118.9,810.8 L120.9,809.0 L122.9,807.3 L124.9,805.6 L126.9,803.9 L128.9,802.4 L130.9,800.8 L132.9,799.4 L134.9,797.9 L136.9,796.5 L138.9,795.2 L140.9,793.9 L142.9,792.6 L144.9,791.4 L146.9,790.3 L148.9,789.1 L150.9,788.0 L152.9,787.0 L154.9,786.0 L156.9,785.0 L158.9,784.0 L160.9,783.1 L162.9,782.3 L164.9,781.4 L166.9,780.6 L168.9,779.8 L170.9,779.1 L172.9,778.3 L174.9,777.6 L176.9,777.0 L178.9,776.3 L180.9,775.7 L182.9,775.1 L184.9,774.5 L186.9,774.0 L188.9,773.4 L190.9,772.9 L192.9,772.4 L194.9,772.0 L196.9,771.5 L198.9,771.0 L200.9,770.6 L202.9,770.2 L204.9,769.8 L206.9,769.4 L208.9,769.0 L210.9,768.7 L212.9,768.3 L214.9,768.0 L216.9,767.6 L218.9,767.3 L220.9,767.0 L222.9,766.6 L224.9,766.3 L226.9,766.0 L228.9,765.7 L230.9,765.4 L232.9,765.2 L234.9,764.9 L236.9,764.6 L238.9,764.4 L240.9,764.2 L242.9,763.9 L244.9,763.7 L246.9,763.5 L248.9,763.3 L250.9,763.2 L252.9,763.0 L254.9,762.9 L256.9,762.7 L258.9,762.6 L260.9,762.5 L262.9,762.4 L264.9,762.4 L266.9,762.3 L268.9,762.3 L270.9,762.3 L272.9,762.3 L274.9,762.3 L276.9,762.3 L278.9,762.4 L280.9,762.5 L282.9,762.6 L284.9,762.7 L286.9,762.8 L288.9,763.0 L290.9,763.2 L292.9,763.4 L294.9,763.6 L296.9,763.9 L298.9,764.1 L300.9,764.4 L302.9,764.7 L304.9,765.1 L306.9,765.5 L308.9,765.8 L310.9,766.3 L312.9,766.7 L314.9,767.2 L316.9,767.7 L318.9,768.2 L320.9,768.8 L322.9,769.4 L324.9,770.0 L326.9,770.6 L328.9,771.3 L330.9,772.0 L332.9,772.7 L334.9,773.5 L336.9,774.3 L338.9,775.1 L340.9,775.9 L342.9,776.8 L344.9,777.7 L346.9,778.7 L348.9,779.7 L350.9,780.7 L352.9,781.8 L354.9,782.8 L356.9,784.0 L358.9,785.1 L360.9,786.3 L362.9,787.6 L364.9,788.8 L366.9,790.1 L368.9,791.5 L370.9,792.9 L372.9,794.3 L374.9,795.7 L376.9,797.2 L378.9,798.8 L380.9,800.3 L382.9,801.9 L384.9,803.5 L386.9,805.2 L388.9,806.8 L390.9,808.6 L392.9,810.3 L394.9,812.0 L396.9,813.8 L398.9,815.6 L400.9,817.4 L402.9,819.3 L404.9,821.1 L406.9,823.0 L408.9,824.9 L410.9,826.8 L412.9,828.7 L414.9,830.7 L416.9,832.6 L418.9,834.6 L420.9,836.5 L422.9,838.5 L424.9,840.5 L426.9,842.5 L428.9,844.5 L430.9,846.5 L432.9,848.5 L434.9,850.4 L436.9,852.4 L438.9,854.4 L440.9,856.4 L442.9,858.4 L444.9,860.4 L446.9,862.4 L448.9,864.3 L450.9,866.3 L452.9,868.2 L454.9,870.1 L456.9,872.0 L458.9,873.9 L460.9,875.8 L462.9,877.6 L464.9,879.4 L466.9,881.2 L468.9,883.0 L470.9,884.7 L472.9,886.4 L474.9,888.0 L476.9,889.6 L478.9,891.2 L480.9,892.7 L482.9,894.2 L484.9,895.6 L486.9,897.0 L488.9,898.4 L490.9,899.6 L492.9,900.9 L494.9,902.0 L496.9,903.1 L498.9,904.2 L500.9,905.2 L502.9,906.1 L504.9,906.9 L506.9,907.7 L508.9,908.4 L510.9,909.0 L512.9,909.6 L514.9,910.0 L516.9,910.4 L518.9,910.7 L520.9,911.0 L522.9,911.1 L524.9,911.1 L526.9,911.1 L528.9,911.0 L530.9,910.8 L532.9,910.5 L534.9,910.1 L536.9,909.7 L538.9,909.2 L540.9,908.6 L542.9,907.9 L544.9,907.2 L546.9,906.4 L548.9,905.5 L550.9,904.6 L552.9,903.6 L554.9,902.6 L556.9,901.5 L558.9,900.3 L560.9,899.1 L562.9,897.8 L564.9,896.5 L566.9,895.1 L568.9,893.7 L570.9,892.2 L572.9,890.7 L574.9,889.2 L576.9,887.6 L578.9,885.9 L580.9,884.3 L582.9,882.6 L584.9,880.8 L586.9,879.1 L588.9,877.3 L590.9,875.5 L592.9,873.6 L594.9,871.7 L596.9,869.9 L598.9,867.9 L600.9,866.0 L602.9,864.1 L604.9,862.1 L606.9,860.1 L608.9,858.1 L610.9,856.2 L612.9,854.2 L614.9,852.2 L616.9,850.1 L618.9,848.1 L620.9,846.1 L622.9,844.1 L624.9,842.1 L626.9,840.1 L628.9,838.1 L630.9,836.2 L632.9,834.2 L634.9,832.2 L636.9,830.3 L638.9,828.4 L640.9,826.5 L642.9,824.6 L644.9,822.7 L646.9,820.9 L648.9,819.1 L650.9,817.3 L652.9,815.5 L654.8,813.9" fill="none" stroke="#000" stroke-width="3.4" stroke-linecap="round" stroke-linejoin="round" clip-path="url(#c3)"/><rect x="114.9" y="645.9" width="539.9" height="360.20000000000005" fill="none" stroke="#000" stroke-width="3.4" stroke-linejoin="miter"/><line x1="114.9" y1="1006.1" x2="114.9" y2="1021.1" stroke="#000" stroke-width="3.4"/><line x1="114.9" y1="645.9" x2="114.9" y2="660.9" stroke="#000" stroke-width="3.4"/><text x="114.9" y="1052.0" text-anchor="middle" font-family='"Liberation Sans", Arial, Helvetica, sans-serif' font-weight="bold" font-size="28">0</text><line x1="249.9" y1="1006.1" x2="249.9" y2="1021.1" stroke="#000" stroke-width="3.4"/><line x1="249.9" y1="645.9" x2="249.9" y2="660.9" stroke="#000" stroke-width="3.4"/><text x="249.9" y="1052.0" text-anchor="middle" font-family='"Liberation Sans", Arial, Helvetica, sans-serif' font-weight="bold" font-size="28">5</text><line x1="384.9" y1="1006.1" x2="384.9" y2="1021.1" stroke="#000" stroke-width="3.4"/><line x1="384.9" y1="645.9" x2="384.9" y2="660.9" stroke="#000" stroke-width="3.4"/><text x="384.9" y="1052.0" text-anchor="middle" font-family='"Liberation Sans", Arial, Helvetica, sans-serif' font-weight="bold" font-size="28">10</text><line x1="519.8" y1="1006.1" x2="519.8" y2="1021.1" stroke="#000" stroke-width="3.4"/><line x1="519.8" y1="645.9" x2="519.8" y2="660.9" stroke="#000" stroke-width="3.4"/><text x="519.8" y="1052.0" text-anchor="middle" font-family='"Liberation Sans", Arial, Helvetica, sans-serif' font-weight="bold" font-size="28">15</text><line x1="654.8" y1="1006.1" x2="654.8" y2="1021.1" stroke="#000" stroke-width="3.4"/><line x1="654.8" y1="645.9" x2="654.8" y2="660.9" stroke="#000" stroke-width="3.4"/><text x="654.8" y="1052.0" text-anchor="middle" font-family='"Liberation Sans", Arial, Helvetica, sans-serif' font-weight="bold" font-size="28">20</text><line x1="99.9" y1="1006.1" x2="114.9" y2="1006.1" stroke="#000" stroke-width="3.4"/><line x1="639.8" y1="1006.1" x2="654.8" y2="1006.1" stroke="#000" stroke-width="3.4"/><text x="95.9" y="1016.1" text-anchor="end" font-family='"Liberation Sans", Arial, Helvetica, sans-serif' font-weight="bold" font-size="28">1.56</text><line x1="99.9" y1="916.0" x2="114.9" y2="916.0" stroke="#000" stroke-width="3.4"/><line x1="639.8" y1="916.0" x2="654.8" y2="916.0" stroke="#000" stroke-width="3.4"/><text x="95.9" y="926.0" text-anchor="end" font-family='"Liberation Sans", Arial, Helvetica, sans-serif' font-weight="bold" font-size="28">1.57</text><line x1="99.9" y1="826.0" x2="114.9" y2="826.0" stroke="#000" stroke-width="3.4"/><line x1="639.8" y1="826.0" x2="654.8" y2="826.0" stroke="#000" stroke-width="3.4"/><text x="95.9" y="836.0" text-anchor="end" font-family='"Liberation Sans", Arial, Helvetica, sans-serif' font-weight="bold" font-size="28">1.58</text><line x1="99.9" y1="736.0" x2="114.9" y2="736.0" stroke="#000" stroke-width="3.4"/><line x1="639.8" y1="736.0" x2="654.8" y2="736.0" stroke="#000" stroke-width="3.4"/><text x="95.9" y="746.0" text-anchor="end" font-family='"Liberation Sans", Arial, Helvetica, sans-serif' font-weight="bold" font-size="28">1.59</text><line x1="99.9" y1="645.9" x2="114.9" y2="645.9" stroke="#000" stroke-width="3.4"/><line x1="639.8" y1="645.9" x2="654.8" y2="645.9" stroke="#000" stroke-width="3.4"/><text x="95.9" y="655.9" text-anchor="end" font-family='"Liberation Sans", Arial, Helvetica, sans-serif' font-weight="bold" font-size="28">1.60</text><text x="384.8" y="598.9" text-anchor="middle" textLength="190.6" lengthAdjust="spacingAndGlyphs" font-family='"Liberation Sans", Arial, Helvetica, sans-serif' font-weight="bold" font-size="35">IL(Rotation)</text><text x="384.2" y="1094.6" text-anchor="middle" font-family='"Liberation Sans", Arial, Helvetica, sans-serif' font-weight="bold" font-size="30">time(s)</text><text transform="translate(25.5,826.0) rotate(-90)" x="0" y="0" text-anchor="middle" font-family='"Liberation Sans", Arial, Helvetica, sans-serif' font-weight="bold" font-size="30">muscular force(N)</text></g>
<g><clipPath id="c4"><rect x="759.5" y="645.3" width="550.7" height="369.5"/></clipPath><path d="M761.5,1000.8 L763.5,1000.8 L765.5,1000.8 L767.5,1000.8 L769.5,1000.8 L771.5,1000.8 L773.5,1000.8 L775.5,1000.8 L777.5,1000.8 L779.5,1000.8 L781.5,1000.8 L783.5,1000.8 L785.5,1000.8 L787.5,1000.8 L789.5,1000.8 L791.5,1000.8 L793.5,1000.8 L795.5,1000.8 L797.5,1000.8 L799.5,1000.8 L801.5,1000.8 L803.5,1000.8 L805.5,1000.8 L807.5,1000.8 L809.5,1000.8 L811.5,1000.8 L813.5,1000.8 L815.5,1000.8 L817.5,1000.8 L819.5,1000.8 L821.5,1000.8 L823.5,1000.8 L825.5,1000.8 L827.5,1000.8 L829.5,1000.8 L831.5,1000.8 L833.5,1000.8 L835.5,1000.8 L837.5,1000.8 L839.5,1000.8 L841.5,1000.8 L843.5,1000.8 L845.5,1000.8 L847.5,1000.8 L849.5,1000.8 L851.5,1000.8 L853.5,1000.8 L855.5,1000.8 L857.5,1000.8 L859.5,1000.8 L861.5,1000.8 L863.5,1000.8 L865.5,1000.8 L867.5,1000.8 L869.5,1000.8 L871.5,1000.8 L873.5,1000.8 L875.5,1000.8 L877.5,1000.8 L879.5,1000.8 L881.5,1000.8 L883.5,1000.8 L885.5,1000.8 L887.5,1000.8 L889.5,1000.8 L891.5,1000.8 L893.5,1000.8 L895.5,1000.8 L897.5,1000.8 L899.5,1000.8 L901.5,1000.8 L903.5,1000.8 L905.5,1000.8 L907.5,1000.8 L909.5,1000.8 L911.5,1000.8 L913.5,1000.8 L915.5,1000.8 L917.5,1000.8 L919.5,1000.8 L921.5,1000.8 L923.5,1000.8 L925.5,1000.8 L927.5,1000.8 L929.5,1000.8 L931.5,1000.8 L933.5,1000.8 L935.5,1000.8 L937.5,1000.8 L939.5,1000.8 L941.5,1000.8 L943.5,1000.8 L945.5,1000.8 L947.5,1000.8 L949.5,1000.8 L951.5,1000.8 L953.5,1000.8 L955.5,1000.8 L957.5,1000.8 L959.5,1000.8 L961.5,1000.8 L963.5,1000.8 L965.5,1000.8 L967.5,1000.8 L969.5,1000.8 L971.5,1000.8 L973.5,1000.8 L975.5,1000.8 L977.5,1000.8 L979.5,1000.8 L981.5,1000.8 L983.5,1000.8 L985.5,1000.8 L987.5,1000.8 L989.5,1000.8 L991.5,1000.8 L993.5,1000.8 L995.5,1000.8 L997.5,1000.8 L999.5,1000.7 L1001.5,1000.7 L1003.5,1000.7 L1005.5,1000.7 L1007.5,1000.7 L1009.5,1000.7 L1011.5,1000.7 L1013.5,1000.7 L1015.5,1000.7 L1017.5,1000.7 L1019.5,1000.7 L1021.5,1000.7 L1023.5,1000.7 L1025.5,1000.7 L1027.5,1000.7 L1029.5,1000.7 L1031.5,1000.7 L1033.5,1000.7 L1035.5,1000.7 L1037.5,1000.7 L1039.5,1000.7 L1041.5,1000.7 L1043.5,1000.7 L1045.5,1000.7 L1047.5,1000.7 L1049.5,1000.7 L1051.5,1000.7 L1053.5,1000.6 L1055.5,1000.6 L1057.5,1000.6 L1059.5,1000.6 L1061.5,1000.6 L1063.5,1000.6 L1065.5,1000.6 L1067.5,1000.6 L1069.5,1000.6 L1071.5,1000.6 L1073.5,1000.6 L1075.5,1000.6 L1077.5,1000.6 L1079.5,1000.6 L1081.5,1000.6 L1083.5,1000.6 L1085.5,1000.6 L1087.5,1000.5 L1089.5,1000.5 L1091.5,1000.5 L1093.5,1000.5 L1095.5,1000.5 L1097.5,1000.5 L1099.5,1000.5 L1101.5,1000.5 L1103.5,1000.5 L1105.5,1000.4 L1107.5,1000.4 L1109.5,1000.3 L1111.5,1000.2 L1113.5,1000.0 L1115.5,999.9 L1117.5,999.7 L1119.5,999.4 L1121.5,999.1 L1123.5,998.8 L1125.5,998.4 L1127.5,997.9 L1129.5,996.2 L1131.5,990.0 L1133.5,979.5 L1135.5,965.1 L1137.5,947.3 L1139.5,929.6 L1141.5,914.3 L1143.5,900.6 L1145.5,888.1 L1147.5,877.2 L1149.5,868.2 L1151.5,860.0 L1153.5,852.6 L1155.5,846.4 L1157.5,842.2 L1159.5,840.1 L1161.5,839.2 L1163.5,838.4 L1165.5,837.7 L1167.5,837.1 L1169.5,836.6 L1171.5,836.2 L1173.5,835.9 L1175.5,835.7 L1177.5,835.5 L1179.5,835.5 L1181.5,836.3 L1183.5,838.8 L1185.5,842.7 L1187.5,847.3 L1189.5,852.5 L1191.5,858.9 L1193.5,866.6 L1195.5,875.8 L1197.5,886.6 L1199.5,900.6 L1201.5,917.2 L1203.5,934.5 L1205.5,951.8 L1207.5,970.0 L1209.5,985.3 L1211.5,994.0 L1213.5,997.4 L1215.5,999.1 L1217.5,999.7 L1219.5,999.8 L1221.5,999.8 L1223.5,999.8 L1225.5,999.8 L1227.5,999.8 L1229.5,999.8 L1231.5,999.8 L1233.5,999.8 L1235.5,999.8 L1237.5,999.8 L1239.5,999.8 L1241.5,999.8 L1243.5,999.8 L1245.5,999.8 L1247.5,999.8 L1249.5,999.8 L1251.5,999.8 L1253.5,999.8 L1255.5,999.8 L1257.5,999.8 L1259.5,999.8 L1261.5,999.8 L1263.5,999.8 L1265.5,999.8 L1267.5,999.8 L1269.5,999.8 L1271.5,999.8 L1273.5,999.8 L1275.5,999.8 L1277.5,999.8 L1279.5,999.8 L1281.5,999.8 L1283.5,999.8 L1285.5,999.8 L1287.5,999.8 L1289.5,999.8 L1291.5,999.8 L1293.5,999.8 L1295.5,999.8 L1297.5,999.8 L1299.5,999.8 L1301.5,999.8 L1303.5,999.8 L1305.5,999.8 L1307.5,999.8 L1308.2,999.8" fill="none" stroke="#999" stroke-width="3.4" stroke-linecap="round" stroke-linejoin="round" stroke-dasharray="7.5 10.5" clip-path="url(#c4)"/><path d="M761.5,1000.2 L763.5,1000.2 L765.5,1000.1 L767.5,1000.1 L769.5,1000.0 L771.5,1000.0 L773.5,999.9 L775.5,999.9 L777.5,999.8 L779.5,999.8 L781.5,999.8 L783.5,999.7 L785.5,999.7 L787.5,999.7 L789.5,999.6 L791.5,999.6 L793.5,999.5 L795.5,999.5 L797.5,999.5 L799.5,999.5 L801.5,999.4 L803.5,999.4 L805.5,999.4 L807.5,999.3 L809.5,999.3 L811.5,999.3 L813.5,999.3 L815.5,999.2 L817.5,999.2 L819.5,999.2 L821.5,999.2 L823.5,999.2 L825.5,999.2 L827.5,999.2 L829.5,999.2 L831.5,999.2 L833.5,999.1 L835.5,999.1 L837.5,999.1 L839.5,999.1 L841.5,999.1 L843.5,999.1 L845.5,999.1 L847.5,999.1 L849.5,999.1 L851.5,999.0 L853.5,999.0 L855.5,998.7 L857.5,996.0 L859.5,988.5 L861.5,977.2 L863.5,962.0 L865.5,944.6 L867.5,928.6 L869.5,915.1 L871.5,903.1 L873.5,891.9 L875.5,881.3 L877.5,871.4 L879.5,862.0 L881.5,852.6 L883.5,844.1 L885.5,838.8 L887.5,836.9 L889.5,836.0 L891.5,835.3 L893.5,834.6 L895.5,834.1 L897.5,833.7 L899.5,833.3 L901.5,833.0 L903.5,832.8 L905.5,832.7 L907.5,832.7 L909.5,833.4 L911.5,836.2 L913.5,841.2 L915.5,847.7 L917.5,854.6 L919.5,861.4 L921.5,868.4 L923.5,876.1 L925.5,884.8 L927.5,894.7 L929.5,906.4 L931.5,919.9 L933.5,935.2 L935.5,953.8 L937.5,975.1 L939.5,990.8 L941.5,997.2 L943.5,998.9 L945.5,999.1 L947.5,999.3 L949.5,999.4 L951.5,999.5 L953.5,999.6 L955.5,999.7 L957.5,999.8 L959.5,999.9 L961.5,1000.0 L963.5,1000.0 L965.5,1000.1 L967.5,1000.2 L969.5,1000.2 L971.5,1000.3 L973.5,1000.3 L975.5,1000.3 L977.5,1000.4 L979.5,1000.4 L981.5,1000.4 L983.5,1000.4 L985.5,1000.5 L987.5,1000.5 L989.5,1000.5 L991.5,1000.5 L993.5,1000.5 L995.5,1000.5 L997.5,1000.5 L999.5,1000.5 L1001.5,1000.5 L1003.5,1000.5 L1005.5,1000.5 L1007.5,1000.5 L1009.5,1000.5 L1011.5,1000.5 L1013.5,1000.5 L1015.5,1000.5 L1017.5,1000.5 L1019.5,1000.5 L1021.5,1000.5 L1023.5,1000.5 L1025.5,1000.5 L1027.5,1000.5 L1029.5,1000.5 L1031.5,1000.5 L1033.5,1000.5 L1035.5,1000.5 L1037.5,1000.5 L1039.5,1000.5 L1041.5,1000.5 L1043.5,1000.5 L1045.5,1000.5 L1047.5,1000.5 L1049.5,1000.5 L1051.5,1000.5 L1053.5,1000.5 L1055.5,1000.5 L1057.5,1000.5 L1059.5,1000.5 L1061.5,1000.5 L1063.5,1000.5 L1065.5,1000.5 L1067.5,1000.5 L1069.5,1000.5 L1071.5,1000.5 L1073.5,1000.5 L1075.5,1000.5 L1077.5,1000.5 L1079.5,1000.5 L1081.5,1000.5 L1083.5,1000.5 L1085.5,1000.5 L1087.5,1000.5 L1089.5,1000.5 L1091.5,1000.5 L1093.5,1000.5 L1095.5,1000.5 L1097.5,1000.5 L1099.5,1000.5 L1101.5,1000.5 L1103.5,1000.5 L1105.5,1000.5 L1107.5,1000.5 L1109.5,1000.5 L1111.5,1000.5 L1113.5,1000.5 L1115.5,1000.5 L1117.5,1000.5 L1119.5,1000.5 L1121.5,1000.5 L1123.5,1000.5 L1125.5,1000.5 L1127.5,1000.5 L1129.5,1000.5 L1131.5,1000.5 L1133.5,1000.5 L1135.5,1000.5 L1137.5,1000.5 L1139.5,1000.5 L1141.5,1000.5 L1143.5,1000.5 L1145.5,1000.5 L1147.5,1000.5 L1149.5,1000.5 L1151.5,1000.5 L1153.5,1000.5 L1155.5,1000.5 L1157.5,1000.5 L1159.5,1000.5 L1161.5,1000.5 L1163.5,1000.5 L1165.5,1000.5 L1167.5,1000.5 L1169.5,1000.5 L1171.5,1000.5 L1173.5,1000.5 L1175.5,1000.5 L1177.5,1000.5 L1179.5,1000.5 L1181.5,1000.5 L1183.5,1000.5 L1185.5,1000.5 L1187.5,1000.5 L1189.5,1000.5 L1191.5,1000.5 L1193.5,1000.5 L1195.5,1000.5 L1197.5,1000.5 L1199.5,1000.5 L1201.5,1000.5 L1203.5,1000.5 L1205.5,1000.5 L1207.5,1000.5 L1209.5,1000.5 L1211.5,1000.5 L1213.5,1000.5 L1215.5,1000.5 L1217.5,1000.5 L1219.5,1000.5 L1221.5,1000.5 L1223.5,1000.5 L1225.5,1000.5 L1227.5,1000.5 L1229.5,1000.5 L1231.5,1000.5 L1233.5,1000.5 L1235.5,1000.5 L1237.5,1000.5 L1239.5,1000.5 L1241.5,1000.5 L1243.5,1000.5 L1245.5,1000.5 L1247.5,1000.5 L1249.5,1000.5 L1251.5,1000.5 L1253.5,1000.5 L1255.5,1000.5 L1257.5,1000.5 L1259.5,1000.5 L1261.5,1000.5 L1263.5,1000.5 L1265.5,1000.5 L1267.5,1000.5 L1269.5,1000.5 L1271.5,1000.5 L1273.5,1000.5 L1275.5,1000.5 L1277.5,1000.5 L1279.5,1000.5 L1281.5,1000.5 L1283.5,1000.5 L1285.5,1000.5 L1287.5,1000.5 L1289.5,1000.5 L1291.5,1000.5 L1293.5,1000.5 L1295.5,1000.5 L1297.5,1000.5 L1299.5,1000.5 L1301.5,1000.5 L1303.5,1000.5 L1305.5,1000.5 L1307.5,1000.5 L1308.2,1000.5" fill="none" stroke="#999" stroke-width="3.4" stroke-linecap="round" stroke-linejoin="round" clip-path="url(#c4)"/><path d="M761.5,1002.0 L763.5,1002.1 L765.5,1002.1 L767.5,1002.2 L769.5,1002.3 L771.5,1002.3 L773.5,1002.4 L775.5,1002.5 L777.5,1002.5 L779.5,1002.6 L781.5,1002.7 L783.5,1002.7 L785.5,1002.8 L787.5,1002.9 L789.5,1002.9 L791.5,1003.0 L793.5,1003.1 L795.5,1003.1 L797.5,1003.2 L799.5,1003.3 L801.5,1003.4 L803.5,1003.4 L805.5,1003.5 L807.5,1003.6 L809.5,1003.6 L811.5,1003.7 L813.5,1003.8 L815.5,1003.9 L817.5,1004.0 L819.5,1004.0 L821.5,1004.1 L823.5,1004.2 L825.5,1004.3 L827.5,1004.3 L829.5,1004.4 L831.5,1004.5 L833.5,1004.6 L835.5,1004.6 L837.5,1004.7 L839.5,1004.7 L841.5,1004.8 L843.5,1004.9 L845.5,1004.9 L847.5,1005.0 L849.5,1005.0 L851.5,1005.0 L853.5,1005.1 L855.5,1005.1 L857.5,1005.1 L859.5,1005.2 L861.5,1005.2 L863.5,1005.2 L865.5,1005.3 L867.5,1005.3 L869.5,1005.3 L871.5,1005.4 L873.5,1005.4 L875.5,1005.4 L877.5,1005.4 L879.5,1005.5 L881.5,1005.5 L883.5,1005.5 L885.5,1005.5 L887.5,1005.5 L889.5,1005.6 L891.5,1005.6 L893.5,1005.6 L895.5,1005.6 L897.5,1005.6 L899.5,1005.6 L901.5,1005.6 L903.5,1005.6 L905.5,1005.6 L907.5,1005.6 L909.5,1005.6 L911.5,1005.6 L913.5,1005.5 L915.5,1005.5 L917.5,1005.5 L919.5,1005.5 L921.5,1005.4 L923.5,1005.4 L925.5,1005.4 L927.5,1005.4 L929.5,1005.3 L931.5,1005.3 L933.5,1005.3 L935.5,1005.2 L937.5,1005.2 L939.5,1005.2 L941.5,1005.1 L943.5,1005.1 L945.5,1005.1 L947.5,1005.0 L949.5,1005.0 L951.5,1005.0 L953.5,1004.9 L955.5,1004.9 L957.5,1004.9 L959.5,1004.8 L961.5,1004.8 L963.5,1004.8 L965.5,1004.7 L967.5,1004.7 L969.5,1004.6 L971.5,1004.6 L973.5,1004.5 L975.5,1004.5 L977.5,1004.5 L979.5,1004.4 L981.5,1004.4 L983.5,1004.3 L985.5,1004.2 L987.5,1004.2 L989.5,1004.1 L991.5,1004.1 L993.5,1004.0 L995.5,1003.9 L997.5,1003.9 L999.5,1003.8 L1001.5,1003.7 L1003.5,1003.7 L1005.5,1003.6 L1007.5,1003.5 L1009.5,1003.4 L1011.5,1003.2 L1013.5,1003.1 L1015.5,1003.0 L1017.5,1002.9 L1019.5,1002.8 L1021.5,1002.6 L1023.5,1002.5 L1025.5,1002.4 L1027.5,1002.3 L1029.5,1002.2 L1031.5,1002.1 L1033.5,1002.1 L1035.5,1002.0 L1037.5,1002.0 L1039.5,1001.9 L1041.5,1001.9 L1043.5,1001.8 L1045.5,1001.8 L1047.5,1001.8 L1049.5,1001.7 L1051.5,1001.7 L1053.5,1001.7 L1055.5,1001.7 L1057.5,1001.6 L1059.5,1001.6 L1061.5,1001.6 L1063.5,1001.5 L1065.5,1001.5 L1067.5,1001.4 L1069.5,1001.4 L1071.5,1001.3 L1073.5,1001.2 L1075.5,1001.1 L1077.5,1001.0 L1079.5,1000.9 L1081.5,1000.8 L1083.5,1000.6 L1085.5,1000.4 L1087.5,999.2 L1089.5,995.5 L1091.5,989.7 L1093.5,981.9 L1095.5,972.1 L1097.5,961.3 L1099.5,950.6 L1101.5,940.7 L1103.5,931.5 L1105.5,922.4 L1107.5,913.5 L1109.5,904.6 L1111.5,895.7 L1113.5,886.7 L1115.5,877.6 L1117.5,868.5 L1119.5,859.5 L1121.5,850.6 L1123.5,842.0 L1125.5,833.8 L1127.5,826.0 L1129.5,818.6 L1131.5,811.4 L1133.5,804.5 L1135.5,797.8 L1137.5,791.3 L1139.5,784.8 L1141.5,778.4 L1143.5,772.2 L1145.5,766.3 L1147.5,760.7 L1149.5,755.4 L1151.5,750.0 L1153.5,744.7 L1155.5,740.0 L1157.5,736.8 L1159.5,735.4 L1161.5,734.8 L1163.5,734.3 L1165.5,733.9 L1167.5,733.6 L1169.5,733.3 L1171.5,733.0 L1173.5,732.9 L1175.5,732.7 L1177.5,732.6 L1179.5,732.7 L1181.5,733.2 L1183.5,734.9 L1185.5,737.6 L1187.5,740.8 L1189.5,744.3 L1191.5,747.9 L1193.5,752.0 L1195.5,756.5 L1197.5,761.5 L1199.5,766.9 L1201.5,772.6 L1203.5,778.6 L1205.5,785.3 L1207.5,792.6 L1209.5,800.4 L1211.5,808.4 L1213.5,816.3 L1215.5,824.1 L1217.5,831.8 L1219.5,839.7 L1221.5,847.5 L1223.5,855.6 L1225.5,863.7 L1227.5,872.1 L1229.5,880.7 L1231.5,889.5 L1233.5,898.5 L1235.5,907.7 L1237.5,917.0 L1239.5,926.4 L1241.5,936.0 L1243.5,946.3 L1245.5,958.3 L1247.5,971.0 L1249.5,982.8 L1251.5,991.8 L1253.5,996.6 L1255.5,997.9 L1257.5,998.4 L1259.5,998.8 L1261.5,999.2 L1263.5,999.4 L1265.5,999.6 L1267.5,999.7 L1269.5,999.8 L1271.5,999.8 L1273.5,999.8 L1275.5,999.8 L1277.5,999.8 L1279.5,999.8 L1281.5,999.8 L1283.5,999.8 L1285.5,999.8 L1287.5,999.8 L1289.5,999.8 L1291.5,999.8 L1293.5,999.8 L1295.5,999.8 L1297.5,999.8 L1299.5,999.8 L1301.5,999.8 L1303.5,999.8 L1305.5,999.8 L1307.5,999.8 L1308.2,999.8" fill="none" stroke="#000" stroke-width="3.4" stroke-linecap="round" stroke-linejoin="round" stroke-dasharray="7.5 10.5" clip-path="url(#c4)"/><path d="M761.5,1000.4 L763.5,1000.4 L765.5,1000.4 L767.5,1000.4 L769.5,1000.4 L771.5,1000.4 L773.5,1000.4 L775.5,1000.4 L777.5,1000.3 L779.5,1000.3 L781.5,1000.3 L783.5,1000.3 L785.5,1000.2 L787.5,1000.2 L789.5,1000.2 L791.5,1000.1 L793.5,1000.1 L795.5,1000.0 L797.5,999.9 L799.5,999.9 L801.5,999.8 L803.5,999.7 L805.5,999.6 L807.5,999.5 L809.5,999.4 L811.5,999.3 L813.5,999.2 L815.5,999.0 L817.5,998.0 L819.5,994.9 L821.5,989.5 L823.5,980.8 L825.5,969.5 L827.5,958.0 L829.5,947.4 L831.5,937.2 L833.5,927.1 L835.5,917.4 L837.5,908.1 L839.5,899.4 L841.5,890.9 L843.5,882.3 L845.5,873.4 L847.5,864.0 L849.5,854.3 L851.5,844.5 L853.5,834.9 L855.5,825.7 L857.5,817.0 L859.5,808.6 L861.5,800.6 L863.5,792.9 L865.5,785.5 L867.5,778.3 L869.5,771.4 L871.5,765.0 L873.5,759.1 L875.5,753.4 L877.5,747.6 L879.5,742.1 L881.5,737.3 L883.5,733.7 L885.5,731.7 L887.5,730.9 L889.5,730.5 L891.5,730.2 L893.5,729.9 L895.5,729.7 L897.5,729.4 L899.5,729.3 L901.5,729.1 L903.5,729.0 L905.5,729.0 L907.5,728.9 L909.5,729.4 L911.5,731.3 L913.5,734.9 L915.5,739.5 L917.5,744.6 L919.5,749.5 L921.5,754.2 L923.5,758.9 L925.5,763.9 L927.5,769.3 L929.5,775.0 L931.5,781.4 L933.5,788.4 L935.5,795.9 L937.5,803.8 L939.5,811.7 L941.5,819.6 L943.5,827.3 L945.5,835.1 L947.5,843.0 L949.5,850.9 L951.5,859.0 L953.5,867.2 L955.5,875.6 L957.5,884.1 L959.5,892.6 L961.5,901.3 L963.5,910.4 L965.5,920.0 L967.5,930.8 L969.5,943.8 L971.5,958.5 L973.5,972.8 L975.5,984.8 L977.5,992.5 L979.5,996.0 L981.5,997.7 L983.5,998.8 L985.5,999.4 L987.5,999.9 L989.5,1000.3 L991.5,1000.7 L993.5,1000.9 L995.5,1001.2 L997.5,1001.3 L999.5,1001.5 L1001.5,1001.6 L1003.5,1001.6 L1005.5,1001.7 L1007.5,1001.8 L1009.5,1001.8 L1011.5,1001.9 L1013.5,1001.9 L1015.5,1002.0 L1017.5,1002.0 L1019.5,1002.0 L1021.5,1002.1 L1023.5,1002.1 L1025.5,1002.1 L1027.5,1002.2 L1029.5,1002.2 L1031.5,1002.2 L1033.5,1002.2 L1035.5,1002.3 L1037.5,1002.3 L1039.5,1002.3 L1041.5,1002.4 L1043.5,1002.4 L1045.5,1002.4 L1047.5,1002.5 L1049.5,1002.5 L1051.5,1002.5 L1053.5,1002.6 L1055.5,1002.6 L1057.5,1002.7 L1059.5,1002.7 L1061.5,1002.7 L1063.5,1002.8 L1065.5,1002.8 L1067.5,1002.9 L1069.5,1002.9 L1071.5,1003.0 L1073.5,1003.0 L1075.5,1003.1 L1077.5,1003.1 L1079.5,1003.2 L1081.5,1003.2 L1083.5,1003.2 L1085.5,1003.3 L1087.5,1003.3 L1089.5,1003.3 L1091.5,1003.4 L1093.5,1003.4 L1095.5,1003.4 L1097.5,1003.5 L1099.5,1003.5 L1101.5,1003.5 L1103.5,1003.5 L1105.5,1003.6 L1107.5,1003.6 L1109.5,1003.6 L1111.5,1003.6 L1113.5,1003.6 L1115.5,1003.7 L1117.5,1003.7 L1119.5,1003.7 L1121.5,1003.7 L1123.5,1003.7 L1125.5,1003.8 L1127.5,1003.8 L1129.5,1003.8 L1131.5,1003.8 L1133.5,1003.8 L1135.5,1003.8 L1137.5,1003.9 L1139.5,1003.9 L1141.5,1003.9 L1143.5,1003.9 L1145.5,1003.9 L1147.5,1003.9 L1149.5,1003.9 L1151.5,1004.0 L1153.5,1004.0 L1155.5,1004.0 L1157.5,1004.0 L1159.5,1004.0 L1161.5,1004.0 L1163.5,1004.0 L1165.5,1004.0 L1167.5,1004.0 L1169.5,1004.0 L1171.5,1004.0 L1173.5,1004.0 L1175.5,1004.0 L1177.5,1004.0 L1179.5,1004.0 L1181.5,1004.0 L1183.5,1004.0 L1185.5,1004.0 L1187.5,1004.0 L1189.5,1004.0 L1191.5,1003.9 L1193.5,1003.9 L1195.5,1003.9 L1197.5,1003.9 L1199.5,1003.9 L1201.5,1003.9 L1203.5,1003.9 L1205.5,1003.9 L1207.5,1003.8 L1209.5,1003.8 L1211.5,1003.8 L1213.5,1003.8 L1215.5,1003.8 L1217.5,1003.7 L1219.5,1003.7 L1221.5,1003.7 L1223.5,1003.7 L1225.5,1003.7 L1227.5,1003.6 L1229.5,1003.6 L1231.5,1003.6 L1233.5,1003.6 L1235.5,1003.6 L1237.5,1003.5 L1239.5,1003.5 L1241.5,1003.5 L1243.5,1003.4 L1245.5,1003.4 L1247.5,1003.4 L1249.5,1003.3 L1251.5,1003.3 L1253.5,1003.2 L1255.5,1003.2 L1257.5,1003.1 L1259.5,1003.1 L1261.5,1003.0 L1263.5,1002.9 L1265.5,1002.9 L1267.5,1002.8 L1269.5,1002.7 L1271.5,1002.6 L1273.5,1002.5 L1275.5,1002.5 L1277.5,1002.4 L1279.5,1002.3 L1281.5,1002.2 L1283.5,1002.1 L1285.5,1002.0 L1287.5,1001.9 L1289.5,1001.8 L1291.5,1001.7 L1293.5,1001.6 L1295.5,1001.5 L1297.5,1001.4 L1299.5,1001.3 L1301.5,1001.2 L1303.5,1001.1 L1305.5,1000.9 L1307.5,1000.9 L1308.2,1000.8" fill="none" stroke="#000" stroke-width="3.4" stroke-linecap="round" stroke-linejoin="round" clip-path="url(#c4)"/><rect x="761.5" y="647.3" width="546.7" height="365.5" fill="none" stroke="#000" stroke-width="3.4" stroke-linejoin="miter"/><line x1="761.5" y1="1012.8" x2="761.5" y2="1027.8" stroke="#000" stroke-width="3.4"/><line x1="761.5" y1="647.3" x2="761.5" y2="662.3" stroke="#000" stroke-width="3.4"/><text x="761.5" y="1058.7" text-anchor="middle" font-family='"Liberation Sans", Arial, Helvetica, sans-serif' font-weight="bold" font-size="28">0</text><line x1="898.2" y1="1012.8" x2="898.2" y2="1027.8" stroke="#000" stroke-width="3.4"/><line x1="898.2" y1="647.3" x2="898.2" y2="662.3" stroke="#000" stroke-width="3.4"/><text x="898.2" y="1058.7" text-anchor="middle" font-family='"Liberation Sans", Arial, Helvetica, sans-serif' font-weight="bold" font-size="28">5</text><line x1="1034.8" y1="1012.8" x2="1034.8" y2="1027.8" stroke="#000" stroke-width="3.4"/><line x1="1034.8" y1="647.3" x2="1034.8" y2="662.3" stroke="#000" stroke-width="3.4"/><text x="1034.8" y="1058.7" text-anchor="middle" font-family='"Liberation Sans", Arial, Helvetica, sans-serif' font-weight="bold" font-size="28">10</text><line x1="1171.5" y1="1012.8" x2="1171.5" y2="1027.8" stroke="#000" stroke-width="3.4"/><line x1="1171.5" y1="647.3" x2="1171.5" y2="662.3" stroke="#000" stroke-width="3.4"/><text x="1171.5" y="1058.7" text-anchor="middle" font-family='"Liberation Sans", Arial, Helvetica, sans-serif' font-weight="bold" font-size="28">15</text><line x1="1308.2" y1="1012.8" x2="1308.2" y2="1027.8" stroke="#000" stroke-width="3.4"/><line x1="1308.2" y1="647.3" x2="1308.2" y2="662.3" stroke="#000" stroke-width="3.4"/><text x="1308.2" y="1058.7" text-anchor="middle" font-family='"Liberation Sans", Arial, Helvetica, sans-serif' font-weight="bold" font-size="28">20</text><line x1="746.5" y1="1012.8" x2="761.5" y2="1012.8" stroke="#000" stroke-width="3.4"/><line x1="1293.2" y1="1012.8" x2="1308.2" y2="1012.8" stroke="#000" stroke-width="3.4"/><text x="742.5" y="1022.8" text-anchor="end" font-family='"Liberation Sans", Arial, Helvetica, sans-serif' font-weight="bold" font-size="28">0</text><line x1="746.5" y1="921.4" x2="761.5" y2="921.4" stroke="#000" stroke-width="3.4"/><line x1="1293.2" y1="921.4" x2="1308.2" y2="921.4" stroke="#000" stroke-width="3.4"/><text x="742.5" y="931.4" text-anchor="end" font-family='"Liberation Sans", Arial, Helvetica, sans-serif' font-weight="bold" font-size="28">10</text><line x1="746.5" y1="830.0" x2="761.5" y2="830.0" stroke="#000" stroke-width="3.4"/><line x1="1293.2" y1="830.0" x2="1308.2" y2="830.0" stroke="#000" stroke-width="3.4"/><text x="742.5" y="840.0" text-anchor="end" font-family='"Liberation Sans", Arial, Helvetica, sans-serif' font-weight="bold" font-size="28">20</text><line x1="746.5" y1="738.7" x2="761.5" y2="738.7" stroke="#000" stroke-width="3.4"/><line x1="1293.2" y1="738.7" x2="1308.2" y2="738.7" stroke="#000" stroke-width="3.4"/><text x="742.5" y="748.7" text-anchor="end" font-family='"Liberation Sans", Arial, Helvetica, sans-serif' font-weight="bold" font-size="28">30</text><line x1="746.5" y1="647.3" x2="761.5" y2="647.3" stroke="#000" stroke-width="3.4"/><line x1="1293.2" y1="647.3" x2="1308.2" y2="647.3" stroke="#000" stroke-width="3.4"/><text x="742.5" y="657.3" text-anchor="end" font-family='"Liberation Sans", Arial, Helvetica, sans-serif' font-weight="bold" font-size="28">40</text><text x="1035.2" y="599.6" text-anchor="middle" textLength="292.8" lengthAdjust="spacingAndGlyphs" font-family='"Liberation Sans", Arial, Helvetica, sans-serif' font-weight="bold" font-size="35">IL(Lateral flexion)</text><text x="1034.2" y="1101.6" text-anchor="middle" font-family='"Liberation Sans", Arial, Helvetica, sans-serif' font-weight="bold" font-size="30">time(s)</text><text transform="translate(692.4,830.0) rotate(-90)" x="0" y="0" text-anchor="middle" font-family='"Liberation Sans", Arial, Helvetica, sans-serif' font-weight="bold" font-size="30">muscular force(N)</text></g>
<g><clipPath id="c5"><rect x="1433.8" y="643.6" width="543.6000000000001" height="364.29999999999995"/></clipPath><path d="M1435.8,870.6 L1437.8,869.2 L1439.8,867.9 L1441.8,866.6 L1443.8,865.3 L1445.8,864.1 L1447.8,862.9 L1449.8,861.8 L1451.8,860.7 L1453.8,859.6 L1455.8,858.5 L1457.8,857.5 L1459.8,856.5 L1461.8,855.6 L1463.8,854.7 L1465.8,853.8 L1467.8,852.9 L1469.8,852.1 L1471.8,851.3 L1473.8,850.5 L1475.8,849.8 L1477.8,849.1 L1479.8,848.4 L1481.8,847.7 L1483.8,847.1 L1485.8,846.5 L1487.8,845.9 L1489.8,845.4 L1491.8,844.8 L1493.8,844.3 L1495.8,843.9 L1497.8,843.4 L1499.8,843.0 L1501.8,842.6 L1503.8,842.2 L1505.8,841.8 L1507.8,841.4 L1509.8,841.1 L1511.8,840.8 L1513.8,840.5 L1515.8,840.3 L1517.8,840.0 L1519.8,839.8 L1521.8,839.6 L1523.8,839.4 L1525.8,839.2 L1527.8,839.0 L1529.8,838.9 L1531.8,838.8 L1533.8,838.6 L1535.8,838.5 L1537.8,838.4 L1539.8,838.4 L1541.8,838.3 L1543.8,838.2 L1545.8,838.2 L1547.8,838.2 L1549.8,838.2 L1551.8,838.2 L1553.8,838.2 L1555.8,838.2 L1557.8,838.2 L1559.8,838.2 L1561.8,838.3 L1563.8,838.3 L1565.8,838.4 L1567.8,838.4 L1569.8,838.5 L1571.8,838.6 L1573.8,838.6 L1575.8,838.7 L1577.8,838.8 L1579.8,838.9 L1581.8,839.0 L1583.8,839.1 L1585.8,839.3 L1587.8,839.4 L1589.8,839.6 L1591.8,839.7 L1593.8,839.9 L1595.8,840.1 L1597.8,840.2 L1599.8,840.4 L1601.8,840.6 L1603.8,840.9 L1605.8,841.1 L1607.8,841.3 L1609.8,841.6 L1611.8,841.8 L1613.8,842.1 L1615.8,842.4 L1617.8,842.7 L1619.8,843.0 L1621.8,843.3 L1623.8,843.7 L1625.8,844.0 L1627.8,844.4 L1629.8,844.8 L1631.8,845.2 L1633.8,845.6 L1635.8,846.0 L1637.8,846.5 L1639.8,846.9 L1641.8,847.4 L1643.8,847.9 L1645.8,848.4 L1647.8,848.9 L1649.8,849.5 L1651.8,850.0 L1653.8,850.6 L1655.8,851.2 L1657.8,851.8 L1659.8,852.4 L1661.8,853.0 L1663.8,853.7 L1665.8,854.4 L1667.8,855.1 L1669.8,855.8 L1671.8,856.6 L1673.8,857.3 L1675.8,858.1 L1677.8,858.9 L1679.8,859.7 L1681.8,860.6 L1683.8,861.4 L1685.8,862.3 L1687.8,863.2 L1689.8,864.1 L1691.8,865.1 L1693.8,866.1 L1695.8,867.1 L1697.8,868.1 L1699.8,869.1 L1701.8,870.2 L1703.8,871.3 L1705.8,872.4 L1707.8,873.5 L1709.8,874.7 L1711.8,875.9 L1713.8,877.1 L1715.8,878.3 L1717.8,879.5 L1719.8,880.8 L1721.8,882.1 L1723.8,883.4 L1725.8,884.7 L1727.8,886.0 L1729.8,887.4 L1731.8,888.7 L1733.8,890.1 L1735.8,891.5 L1737.8,892.9 L1739.8,894.2 L1741.8,895.6 L1743.8,897.0 L1745.8,898.4 L1747.8,899.8 L1749.8,901.2 L1751.8,902.6 L1753.8,904.0 L1755.8,905.4 L1757.8,906.8 L1759.8,908.2 L1761.8,909.6 L1763.8,911.0 L1765.8,912.3 L1767.8,913.7 L1769.8,915.0 L1771.8,916.3 L1773.8,917.7 L1775.8,919.0 L1777.8,920.2 L1779.8,921.5 L1781.8,922.7 L1783.8,924.0 L1785.8,925.2 L1787.8,926.4 L1789.8,927.5 L1791.8,928.6 L1793.8,929.7 L1795.8,930.8 L1797.8,931.9 L1799.8,932.9 L1801.8,933.9 L1803.8,934.8 L1805.8,935.7 L1807.8,936.6 L1809.8,937.5 L1811.8,938.3 L1813.8,939.1 L1815.8,939.8 L1817.8,940.5 L1819.8,941.1 L1821.8,941.7 L1823.8,942.3 L1825.8,942.8 L1827.8,943.3 L1829.8,943.7 L1831.8,944.1 L1833.8,944.4 L1835.8,944.7 L1837.8,944.9 L1839.8,945.0 L1841.8,945.1 L1843.8,945.2 L1845.8,945.2 L1847.8,945.1 L1849.8,945.0 L1851.8,944.8 L1853.8,944.5 L1855.8,944.2 L1857.8,943.8 L1859.8,943.3 L1861.8,942.8 L1863.8,942.2 L1865.8,941.6 L1867.8,940.9 L1869.8,940.2 L1871.8,939.3 L1873.8,938.5 L1875.8,937.6 L1877.8,936.6 L1879.8,935.6 L1881.8,934.6 L1883.8,933.5 L1885.8,932.4 L1887.8,931.3 L1889.8,930.1 L1891.8,928.9 L1893.8,927.6 L1895.8,926.3 L1897.8,925.0 L1899.8,923.7 L1901.8,922.4 L1903.8,921.0 L1905.8,919.6 L1907.8,918.2 L1909.8,916.8 L1911.8,915.4 L1913.8,914.0 L1915.8,912.6 L1917.8,911.1 L1919.8,909.7 L1921.8,908.3 L1923.8,906.8 L1925.8,905.4 L1927.8,904.0 L1929.8,902.6 L1931.8,901.2 L1933.8,899.8 L1935.8,898.4 L1937.8,897.0 L1939.8,895.6 L1941.8,894.2 L1943.8,892.8 L1945.8,891.5 L1947.8,890.1 L1949.8,888.7 L1951.8,887.3 L1953.8,886.0 L1955.8,884.6 L1957.8,883.2 L1959.8,881.8 L1961.8,880.5 L1963.8,879.1 L1965.8,877.7 L1967.8,876.3 L1969.8,874.9 L1971.8,873.5 L1973.8,872.1 L1975.4,871.0" fill="none" stroke="#999" stroke-width="3.4" stroke-linecap="round" stroke-linejoin="round" stroke-dasharray="7.5 10.5" clip-path="url(#c5)"/><path d="M1435.8,870.0 L1437.8,868.6 L1439.8,867.3 L1441.8,866.0 L1443.8,864.7 L1445.8,863.5 L1447.8,862.3 L1449.8,861.2 L1451.8,860.1 L1453.8,859.0 L1455.8,857.9 L1457.8,856.9 L1459.8,855.9 L1461.8,855.0 L1463.8,854.1 L1465.8,853.2 L1467.8,852.3 L1469.8,851.5 L1471.8,850.7 L1473.8,849.9 L1475.8,849.2 L1477.8,848.5 L1479.8,847.8 L1481.8,847.1 L1483.8,846.5 L1485.8,845.9 L1487.8,845.3 L1489.8,844.8 L1491.8,844.2 L1493.8,843.7 L1495.8,843.3 L1497.8,842.8 L1499.8,842.4 L1501.8,842.0 L1503.8,841.6 L1505.8,841.2 L1507.8,840.8 L1509.8,840.5 L1511.8,840.2 L1513.8,839.9 L1515.8,839.7 L1517.8,839.4 L1519.8,839.2 L1521.8,839.0 L1523.8,838.8 L1525.8,838.6 L1527.8,838.4 L1529.8,838.3 L1531.8,838.2 L1533.8,838.0 L1535.8,837.9 L1537.8,837.8 L1539.8,837.8 L1541.8,837.7 L1543.8,837.6 L1545.8,837.6 L1547.8,837.6 L1549.8,837.6 L1551.8,837.6 L1553.8,837.6 L1555.8,837.6 L1557.8,837.6 L1559.8,837.6 L1561.8,837.7 L1563.8,837.7 L1565.8,837.8 L1567.8,837.8 L1569.8,837.9 L1571.8,838.0 L1573.8,838.0 L1575.8,838.1 L1577.8,838.2 L1579.8,838.3 L1581.8,838.4 L1583.8,838.5 L1585.8,838.7 L1587.8,838.8 L1589.8,839.0 L1591.8,839.1 L1593.8,839.3 L1595.8,839.5 L1597.8,839.6 L1599.8,839.8 L1601.8,840.0 L1603.8,840.3 L1605.8,840.5 L1607.8,840.7 L1609.8,841.0 L1611.8,841.2 L1613.8,841.5 L1615.8,841.8 L1617.8,842.1 L1619.8,842.4 L1621.8,842.7 L1623.8,843.1 L1625.8,843.4 L1627.8,843.8 L1629.8,844.2 L1631.8,844.6 L1633.8,845.0 L1635.8,845.4 L1637.8,845.9 L1639.8,846.3 L1641.8,846.8 L1643.8,847.3 L1645.8,847.8 L1647.8,848.3 L1649.8,848.9 L1651.8,849.4 L1653.8,850.0 L1655.8,850.6 L1657.8,851.2 L1659.8,851.8 L1661.8,852.4 L1663.8,853.1 L1665.8,853.8 L1667.8,854.5 L1669.8,855.2 L1671.8,856.0 L1673.8,856.7 L1675.8,857.5 L1677.8,858.3 L1679.8,859.1 L1681.8,860.0 L1683.8,860.8 L1685.8,861.7 L1687.8,862.6 L1689.8,863.5 L1691.8,864.5 L1693.8,865.5 L1695.8,866.5 L1697.8,867.5 L1699.8,868.5 L1701.8,869.6 L1703.8,870.7 L1705.8,871.8 L1707.8,872.9 L1709.8,874.1 L1711.8,875.3 L1713.8,876.5 L1715.8,877.7 L1717.8,878.9 L1719.8,880.2 L1721.8,881.5 L1723.8,882.8 L1725.8,884.1 L1727.8,885.4 L1729.8,886.8 L1731.8,888.1 L1733.8,889.5 L1735.8,890.9 L1737.8,892.3 L1739.8,893.6 L1741.8,895.0 L1743.8,896.4 L1745.8,897.8 L1747.8,899.2 L1749.8,900.6 L1751.8,902.0 L1753.8,903.4 L1755.8,904.8 L1757.8,906.2 L1759.8,907.6 L1761.8,909.0 L1763.8,910.4 L1765.8,911.7 L1767.8,913.1 L1769.8,914.4 L1771.8,915.7 L1773.8,917.1 L1775.8,918.4 L1777.8,919.6 L1779.8,920.9 L1781.8,922.1 L1783.8,923.4 L1785.8,924.6 L1787.8,925.8 L1789.8,926.9 L1791.8,928.0 L1793.8,929.1 L1795.8,930.2 L1797.8,931.3 L1799.8,932.3 L1801.8,933.3 L1803.8,934.2 L1805.8,935.1 L1807.8,936.0 L1809.8,936.9 L1811.8,937.7 L1813.8,938.5 L1815.8,939.2 L1817.8,939.9 L1819.8,940.5 L1821.8,941.1 L1823.8,941.7 L1825.8,942.2 L1827.8,942.7 L1829.8,943.1 L1831.8,943.5 L1833.8,943.8 L1835.8,944.1 L1837.8,944.3 L1839.8,944.4 L1841.8,944.5 L1843.8,944.6 L1845.8,944.6 L1847.8,944.5 L1849.8,944.4 L1851.8,944.2 L1853.8,943.9 L1855.8,943.6 L1857.8,943.2 L1859.8,942.7 L1861.8,942.2 L1863.8,941.6 L1865.8,941.0 L1867.8,940.3 L1869.8,939.6 L1871.8,938.7 L1873.8,937.9 L1875.8,937.0 L1877.8,936.0 L1879.8,935.0 L1881.8,934.0 L1883.8,932.9 L1885.8,931.8 L1887.8,930.7 L1889.8,929.5 L1891.8,928.3 L1893.8,927.0 L1895.8,925.7 L1897.8,924.4 L1899.8,923.1 L1901.8,921.8 L1903.8,920.4 L1905.8,919.0 L1907.8,917.6 L1909.8,916.2 L1911.8,914.8 L1913.8,913.4 L1915.8,912.0 L1917.8,910.5 L1919.8,909.1 L1921.8,907.7 L1923.8,906.2 L1925.8,904.8 L1927.8,903.4 L1929.8,902.0 L1931.8,900.6 L1933.8,899.2 L1935.8,897.8 L1937.8,896.4 L1939.8,895.0 L1941.8,893.6 L1943.8,892.2 L1945.8,890.9 L1947.8,889.5 L1949.8,888.1 L1951.8,886.7 L1953.8,885.4 L1955.8,884.0 L1957.8,882.6 L1959.8,881.2 L1961.8,879.9 L1963.8,878.5 L1965.8,877.1 L1967.8,875.7 L1969.8,874.3 L1971.8,872.9 L1973.8,871.5 L1975.4,870.4" fill="none" stroke="#999" stroke-width="3.4" stroke-linecap="round" stroke-linejoin="round" clip-path="url(#c5)"/><path d="M1435.8,764.5 L1437.8,762.5 L1439.8,760.7 L1441.8,758.8 L1443.8,757.0 L1445.8,755.3 L1447.8,753.6 L1449.8,752.0 L1451.8,750.4 L1453.8,748.8 L1455.8,747.3 L1457.8,745.9 L1459.8,744.5 L1461.8,743.1 L1463.8,741.7 L1465.8,740.5 L1467.8,739.2 L1469.8,738.0 L1471.8,736.8 L1473.8,735.7 L1475.8,734.6 L1477.8,733.5 L1479.8,732.5 L1481.8,731.5 L1483.8,730.5 L1485.8,729.6 L1487.8,728.7 L1489.8,727.9 L1491.8,727.1 L1493.8,726.3 L1495.8,725.5 L1497.8,724.8 L1499.8,724.1 L1501.8,723.5 L1503.8,722.8 L1505.8,722.2 L1507.8,721.7 L1509.8,721.1 L1511.8,720.6 L1513.8,720.1 L1515.8,719.6 L1517.8,719.2 L1519.8,718.8 L1521.8,718.4 L1523.8,718.0 L1525.8,717.7 L1527.8,717.4 L1529.8,717.1 L1531.8,716.8 L1533.8,716.5 L1535.8,716.3 L1537.8,716.0 L1539.8,715.8 L1541.8,715.7 L1543.8,715.5 L1545.8,715.3 L1547.8,715.2 L1549.8,715.1 L1551.8,715.0 L1553.8,714.9 L1555.8,714.8 L1557.8,714.8 L1559.8,714.7 L1561.8,714.7 L1563.8,714.6 L1565.8,714.6 L1567.8,714.6 L1569.8,714.6 L1571.8,714.6 L1573.8,714.7 L1575.8,714.7 L1577.8,714.8 L1579.8,714.8 L1581.8,714.9 L1583.8,715.0 L1585.8,715.1 L1587.8,715.2 L1589.8,715.4 L1591.8,715.5 L1593.8,715.7 L1595.8,715.9 L1597.8,716.1 L1599.8,716.3 L1601.8,716.6 L1603.8,716.8 L1605.8,717.1 L1607.8,717.4 L1609.8,717.8 L1611.8,718.1 L1613.8,718.5 L1615.8,718.9 L1617.8,719.3 L1619.8,719.8 L1621.8,720.2 L1623.8,720.7 L1625.8,721.3 L1627.8,721.8 L1629.8,722.4 L1631.8,723.0 L1633.8,723.6 L1635.8,724.3 L1637.8,725.0 L1639.8,725.7 L1641.8,726.5 L1643.8,727.3 L1645.8,728.1 L1647.8,728.9 L1649.8,729.8 L1651.8,730.7 L1653.8,731.7 L1655.8,732.6 L1657.8,733.7 L1659.8,734.7 L1661.8,735.8 L1663.8,736.9 L1665.8,738.0 L1667.8,739.2 L1669.8,740.4 L1671.8,741.7 L1673.8,742.9 L1675.8,744.2 L1677.8,745.6 L1679.8,746.9 L1681.8,748.3 L1683.8,749.8 L1685.8,751.2 L1687.8,752.7 L1689.8,754.2 L1691.8,755.8 L1693.8,757.4 L1695.8,759.0 L1697.8,760.7 L1699.8,762.3 L1701.8,764.0 L1703.8,765.8 L1705.8,767.6 L1707.8,769.4 L1709.8,771.2 L1711.8,773.1 L1713.8,775.0 L1715.8,776.9 L1717.8,778.8 L1719.8,780.8 L1721.8,782.8 L1723.8,784.8 L1725.8,786.8 L1727.8,788.8 L1729.8,790.9 L1731.8,792.9 L1733.8,795.0 L1735.8,797.1 L1737.8,799.1 L1739.8,801.2 L1741.8,803.3 L1743.8,805.4 L1745.8,807.4 L1747.8,809.5 L1749.8,811.6 L1751.8,813.6 L1753.8,815.7 L1755.8,817.7 L1757.8,819.7 L1759.8,821.7 L1761.8,823.6 L1763.8,825.6 L1765.8,827.5 L1767.8,829.4 L1769.8,831.3 L1771.8,833.1 L1773.8,834.9 L1775.8,836.7 L1777.8,838.5 L1779.8,840.2 L1781.8,841.8 L1783.8,843.5 L1785.8,845.1 L1787.8,846.6 L1789.8,848.1 L1791.8,849.5 L1793.8,850.9 L1795.8,852.3 L1797.8,853.5 L1799.8,854.8 L1801.8,856.0 L1803.8,857.1 L1805.8,858.2 L1807.8,859.2 L1809.8,860.1 L1811.8,861.0 L1813.8,861.9 L1815.8,862.7 L1817.8,863.4 L1819.8,864.1 L1821.8,864.7 L1823.8,865.3 L1825.8,865.8 L1827.8,866.2 L1829.8,866.6 L1831.8,866.9 L1833.8,867.2 L1835.8,867.4 L1837.8,867.5 L1839.8,867.6 L1841.8,867.6 L1843.8,867.5 L1845.8,867.4 L1847.8,867.2 L1849.8,866.9 L1851.8,866.6 L1853.8,866.2 L1855.8,865.8 L1857.8,865.2 L1859.8,864.7 L1861.8,864.0 L1863.8,863.3 L1865.8,862.5 L1867.8,861.6 L1869.8,860.7 L1871.8,859.8 L1873.8,858.7 L1875.8,857.7 L1877.8,856.5 L1879.8,855.3 L1881.8,854.1 L1883.8,852.8 L1885.8,851.4 L1887.8,850.1 L1889.8,848.6 L1891.8,847.1 L1893.8,845.6 L1895.8,844.0 L1897.8,842.4 L1899.8,840.8 L1901.8,839.1 L1903.8,837.4 L1905.8,835.6 L1907.8,833.8 L1909.8,832.0 L1911.8,830.1 L1913.8,828.2 L1915.8,826.3 L1917.8,824.4 L1919.8,822.4 L1921.8,820.4 L1923.8,818.4 L1925.8,816.4 L1927.8,814.3 L1929.8,812.2 L1931.8,810.1 L1933.8,808.0 L1935.8,805.9 L1937.8,803.8 L1939.8,801.6 L1941.8,799.5 L1943.8,797.3 L1945.8,795.2 L1947.8,793.0 L1949.8,790.8 L1951.8,788.6 L1953.8,786.4 L1955.8,784.3 L1957.8,782.1 L1959.8,779.9 L1961.8,777.7 L1963.8,775.5 L1965.8,773.4 L1967.8,771.2 L1969.8,769.1 L1971.8,767.0 L1973.8,764.8 L1975.4,763.1" fill="none" stroke="#000" stroke-width="3.4" stroke-linecap="round" stroke-linejoin="round" stroke-dasharray="7.5 10.5" clip-path="url(#c5)"/><path d="M1435.8,765.6 L1437.8,763.7 L1439.8,761.8 L1441.8,760.0 L1443.8,758.2 L1445.8,756.5 L1447.8,754.8 L1449.8,753.2 L1451.8,751.6 L1453.8,750.1 L1455.8,748.6 L1457.8,747.1 L1459.8,745.7 L1461.8,744.3 L1463.8,743.0 L1465.8,741.7 L1467.8,740.5 L1469.8,739.2 L1471.8,738.1 L1473.8,736.9 L1475.8,735.8 L1477.8,734.8 L1479.8,733.7 L1481.8,732.8 L1483.8,731.8 L1485.8,730.9 L1487.8,730.0 L1489.8,729.2 L1491.8,728.3 L1493.8,727.5 L1495.8,726.8 L1497.8,726.1 L1499.8,725.4 L1501.8,724.7 L1503.8,724.1 L1505.8,723.5 L1507.8,722.9 L1509.8,722.4 L1511.8,721.8 L1513.8,721.3 L1515.8,720.9 L1517.8,720.4 L1519.8,720.0 L1521.8,719.6 L1523.8,719.2 L1525.8,718.9 L1527.8,718.6 L1529.8,718.3 L1531.8,718.0 L1533.8,717.7 L1535.8,717.5 L1537.8,717.2 L1539.8,717.0 L1541.8,716.8 L1543.8,716.7 L1545.8,716.5 L1547.8,716.4 L1549.8,716.3 L1551.8,716.1 L1553.8,716.1 L1555.8,716.0 L1557.8,715.9 L1559.8,715.9 L1561.8,715.8 L1563.8,715.8 L1565.8,715.8 L1567.8,715.8 L1569.8,715.8 L1571.8,715.8 L1573.8,715.8 L1575.8,715.9 L1577.8,715.9 L1579.8,716.0 L1581.8,716.1 L1583.8,716.1 L1585.8,716.3 L1587.8,716.4 L1589.8,716.5 L1591.8,716.7 L1593.8,716.9 L1595.8,717.0 L1597.8,717.3 L1599.8,717.5 L1601.8,717.7 L1603.8,718.0 L1605.8,718.3 L1607.8,718.6 L1609.8,718.9 L1611.8,719.3 L1613.8,719.7 L1615.8,720.1 L1617.8,720.5 L1619.8,721.0 L1621.8,721.4 L1623.8,721.9 L1625.8,722.5 L1627.8,723.0 L1629.8,723.6 L1631.8,724.2 L1633.8,724.8 L1635.8,725.5 L1637.8,726.2 L1639.8,726.9 L1641.8,727.7 L1643.8,728.4 L1645.8,729.3 L1647.8,730.1 L1649.8,731.0 L1651.8,731.9 L1653.8,732.8 L1655.8,733.8 L1657.8,734.8 L1659.8,735.9 L1661.8,736.9 L1663.8,738.1 L1665.8,739.2 L1667.8,740.4 L1669.8,741.6 L1671.8,742.8 L1673.8,744.1 L1675.8,745.4 L1677.8,746.7 L1679.8,748.1 L1681.8,749.5 L1683.8,750.9 L1685.8,752.3 L1687.8,753.8 L1689.8,755.4 L1691.8,756.9 L1693.8,758.5 L1695.8,760.1 L1697.8,761.8 L1699.8,763.5 L1701.8,765.2 L1703.8,766.9 L1705.8,768.7 L1707.8,770.5 L1709.8,772.4 L1711.8,774.2 L1713.8,776.1 L1715.8,778.1 L1717.8,780.0 L1719.8,782.0 L1721.8,784.0 L1723.8,786.0 L1725.8,788.1 L1727.8,790.1 L1729.8,792.2 L1731.8,794.2 L1733.8,796.3 L1735.8,798.4 L1737.8,800.5 L1739.8,802.6 L1741.8,804.7 L1743.8,806.8 L1745.8,808.9 L1747.8,811.0 L1749.8,813.1 L1751.8,815.1 L1753.8,817.2 L1755.8,819.3 L1757.8,821.3 L1759.8,823.3 L1761.8,825.3 L1763.8,827.3 L1765.8,829.3 L1767.8,831.2 L1769.8,833.1 L1771.8,835.0 L1773.8,836.8 L1775.8,838.6 L1777.8,840.4 L1779.8,842.1 L1781.8,843.9 L1783.8,845.5 L1785.8,847.1 L1787.8,848.7 L1789.8,850.2 L1791.8,851.7 L1793.8,853.2 L1795.8,854.5 L1797.8,855.9 L1799.8,857.1 L1801.8,858.4 L1803.8,859.5 L1805.8,860.6 L1807.8,861.7 L1809.8,862.7 L1811.8,863.6 L1813.8,864.5 L1815.8,865.4 L1817.8,866.1 L1819.8,866.8 L1821.8,867.5 L1823.8,868.1 L1825.8,868.6 L1827.8,869.1 L1829.8,869.5 L1831.8,869.8 L1833.8,870.1 L1835.8,870.3 L1837.8,870.5 L1839.8,870.6 L1841.8,870.6 L1843.8,870.5 L1845.8,870.4 L1847.8,870.2 L1849.8,870.0 L1851.8,869.6 L1853.8,869.3 L1855.8,868.8 L1857.8,868.3 L1859.8,867.6 L1861.8,867.0 L1863.8,866.2 L1865.8,865.4 L1867.8,864.5 L1869.8,863.6 L1871.8,862.6 L1873.8,861.5 L1875.8,860.4 L1877.8,859.2 L1879.8,858.0 L1881.8,856.7 L1883.8,855.3 L1885.8,854.0 L1887.8,852.5 L1889.8,851.0 L1891.8,849.5 L1893.8,847.9 L1895.8,846.3 L1897.8,844.6 L1899.8,842.9 L1901.8,841.1 L1903.8,839.4 L1905.8,837.5 L1907.8,835.7 L1909.8,833.8 L1911.8,831.9 L1913.8,830.0 L1915.8,828.0 L1917.8,826.0 L1919.8,824.0 L1921.8,821.9 L1923.8,819.9 L1925.8,817.8 L1927.8,815.7 L1929.8,813.6 L1931.8,811.4 L1933.8,809.3 L1935.8,807.1 L1937.8,805.0 L1939.8,802.8 L1941.8,800.6 L1943.8,798.4 L1945.8,796.2 L1947.8,794.0 L1949.8,791.8 L1951.8,789.6 L1953.8,787.4 L1955.8,785.3 L1957.8,783.1 L1959.8,780.9 L1961.8,778.7 L1963.8,776.6 L1965.8,774.4 L1967.8,772.3 L1969.8,770.2 L1971.8,768.1 L1973.8,766.0 L1975.4,764.4" fill="none" stroke="#000" stroke-width="3.4" stroke-linecap="round" stroke-linejoin="round" clip-path="url(#c5)"/><rect x="1435.8" y="645.6" width="539.6000000000001" height="360.29999999999995" fill="none" stroke="#000" stroke-width="3.4" stroke-linejoin="miter"/><line x1="1435.8" y1="1005.9" x2="1435.8" y2="1020.9" stroke="#000" stroke-width="3.4"/><line x1="1435.8" y1="645.6" x2="1435.8" y2="660.6" stroke="#000" stroke-width="3.4"/><text x="1435.8" y="1051.8" text-anchor="middle" font-family='"Liberation Sans", Arial, Helvetica, sans-serif' font-weight="bold" font-size="28">0</text><line x1="1570.7" y1="1005.9" x2="1570.7" y2="1020.9" stroke="#000" stroke-width="3.4"/><line x1="1570.7" y1="645.6" x2="1570.7" y2="660.6" stroke="#000" stroke-width="3.4"/><text x="1570.7" y="1051.8" text-anchor="middle" font-family='"Liberation Sans", Arial, Helvetica, sans-serif' font-weight="bold" font-size="28">5</text><line x1="1705.6" y1="1005.9" x2="1705.6" y2="1020.9" stroke="#000" stroke-width="3.4"/><line x1="1705.6" y1="645.6" x2="1705.6" y2="660.6" stroke="#000" stroke-width="3.4"/><text x="1705.6" y="1051.8" text-anchor="middle" font-family='"Liberation Sans", Arial, Helvetica, sans-serif' font-weight="bold" font-size="28">10</text><line x1="1840.5" y1="1005.9" x2="1840.5" y2="1020.9" stroke="#000" stroke-width="3.4"/><line x1="1840.5" y1="645.6" x2="1840.5" y2="660.6" stroke="#000" stroke-width="3.4"/><text x="1840.5" y="1051.8" text-anchor="middle" font-family='"Liberation Sans", Arial, Helvetica, sans-serif' font-weight="bold" font-size="28">15</text><line x1="1975.4" y1="1005.9" x2="1975.4" y2="1020.9" stroke="#000" stroke-width="3.4"/><line x1="1975.4" y1="645.6" x2="1975.4" y2="660.6" stroke="#000" stroke-width="3.4"/><text x="1975.4" y="1051.8" text-anchor="middle" font-family='"Liberation Sans", Arial, Helvetica, sans-serif' font-weight="bold" font-size="28">20</text><line x1="1420.8" y1="1005.9" x2="1435.8" y2="1005.9" stroke="#000" stroke-width="3.4"/><line x1="1960.4" y1="1005.9" x2="1975.4" y2="1005.9" stroke="#000" stroke-width="3.4"/><text x="1416.8" y="1015.9" text-anchor="end" font-family='"Liberation Sans", Arial, Helvetica, sans-serif' font-weight="bold" font-size="28">0.8</text><line x1="1420.8" y1="945.9" x2="1435.8" y2="945.9" stroke="#000" stroke-width="3.4"/><line x1="1960.4" y1="945.9" x2="1975.4" y2="945.9" stroke="#000" stroke-width="3.4"/><text x="1416.8" y="955.9" text-anchor="end" font-family='"Liberation Sans", Arial, Helvetica, sans-serif' font-weight="bold" font-size="28">0.9</text><line x1="1420.8" y1="885.8" x2="1435.8" y2="885.8" stroke="#000" stroke-width="3.4"/><line x1="1960.4" y1="885.8" x2="1975.4" y2="885.8" stroke="#000" stroke-width="3.4"/><text x="1416.8" y="895.8" text-anchor="end" font-family='"Liberation Sans", Arial, Helvetica, sans-serif' font-weight="bold" font-size="28">1.0</text><line x1="1420.8" y1="825.8" x2="1435.8" y2="825.8" stroke="#000" stroke-width="3.4"/><line x1="1960.4" y1="825.8" x2="1975.4" y2="825.8" stroke="#000" stroke-width="3.4"/><text x="1416.8" y="835.8" text-anchor="end" font-family='"Liberation Sans", Arial, Helvetica, sans-serif' font-weight="bold" font-size="28">1.1</text><line x1="1420.8" y1="765.7" x2="1435.8" y2="765.7" stroke="#000" stroke-width="3.4"/><line x1="1960.4" y1="765.7" x2="1975.4" y2="765.7" stroke="#000" stroke-width="3.4"/><text x="1416.8" y="775.7" text-anchor="end" font-family='"Liberation Sans", Arial, Helvetica, sans-serif' font-weight="bold" font-size="28">1.2</text><line x1="1420.8" y1="705.7" x2="1435.8" y2="705.7" stroke="#000" stroke-width="3.4"/><line x1="1960.4" y1="705.7" x2="1975.4" y2="705.7" stroke="#000" stroke-width="3.4"/><text x="1416.8" y="715.7" text-anchor="end" font-family='"Liberation Sans", Arial, Helvetica, sans-serif' font-weight="bold" font-size="28">1.3</text><line x1="1420.8" y1="645.6" x2="1435.8" y2="645.6" stroke="#000" stroke-width="3.4"/><line x1="1960.4" y1="645.6" x2="1975.4" y2="645.6" stroke="#000" stroke-width="3.4"/><text x="1416.8" y="655.6" text-anchor="end" font-family='"Liberation Sans", Arial, Helvetica, sans-serif' font-weight="bold" font-size="28">1.4</text><text x="1706.2" y="598.8" text-anchor="middle" textLength="384.9" lengthAdjust="spacingAndGlyphs" font-family='"Liberation Sans", Arial, Helvetica, sans-serif' font-weight="bold" font-size="35">IL(Flexion &amp; Extension)</text><text x="1705.4" y="1094.6" text-anchor="middle" font-family='"Liberation Sans", Arial, Helvetica, sans-serif' font-weight="bold" font-size="30">time(s)</text><text transform="translate(1360.9,825.5) rotate(-90)" x="0" y="0" text-anchor="middle" font-family='"Liberation Sans", Arial, Helvetica, sans-serif' font-weight="bold" font-size="30">muscular force(N)</text></g>
<line x1="1463.3" y1="115.0" x2="1499.0" y2="115.0" stroke="#000" stroke-width="3.7" stroke-linecap="round"/><text x="1521.5" y="124.4" font-family='"Liberation Sans", Arial, Helvetica, sans-serif' font-size="29.5">right(without)</text><line x1="1463.3" y1="153.0" x2="1468.2" y2="153.0" stroke="#000" stroke-width="3.7" stroke-linecap="round"/><line x1="1480.3" y1="153.0" x2="1487.2" y2="153.0" stroke="#000" stroke-width="3.7" stroke-linecap="round"/><line x1="1499.3" y1="153.0" x2="1499.0" y2="153.0" stroke="#000" stroke-width="3.7" stroke-linecap="round"/><text x="1521.5" y="162.7" font-family='"Liberation Sans", Arial, Helvetica, sans-serif' font-size="29.5">left(without)</text><line x1="1463.3" y1="194.7" x2="1499.0" y2="194.7" stroke="#999" stroke-width="3.7" stroke-linecap="round"/><text x="1521.5" y="204.0" font-family='"Liberation Sans", Arial, Helvetica, sans-serif' font-size="29.5">right(with)</text><line x1="1463.3" y1="233.2" x2="1468.2" y2="233.2" stroke="#999" stroke-width="3.7" stroke-linecap="round"/><line x1="1480.3" y1="233.2" x2="1487.2" y2="233.2" stroke="#999" stroke-width="3.7" stroke-linecap="round"/><line x1="1499.3" y1="233.2" x2="1499.0" y2="233.2" stroke="#999" stroke-width="3.7" stroke-linecap="round"/><text x="1521.5" y="242.2" font-family='"Liberation Sans", Arial, Helvetica, sans-serif' font-size="29.5">left(with)</text>
<line x1="1723.8" y1="677.4" x2="1759.2" y2="677.4" stroke="#000" stroke-width="3.7" stroke-linecap="round"/><text transform="translate(1781.0,686.5) skewX(-5)" x="0" y="0" font-family='"Liberation Sans", Arial, Helvetica, sans-serif' font-size="29.5">right(without)</text><line x1="1723.8" y1="711.1" x2="1728.7" y2="711.1" stroke="#000" stroke-width="3.7" stroke-linecap="round"/><line x1="1740.8" y1="711.1" x2="1747.7" y2="711.1" stroke="#000" stroke-width="3.7" stroke-linecap="round"/><line x1="1759.8" y1="711.1" x2="1759.2" y2="711.1" stroke="#000" stroke-width="3.7" stroke-linecap="round"/><text x="1781.0" y="720.5" font-family='"Liberation Sans", Arial, Helvetica, sans-serif' font-size="29.5">left(without)</text><line x1="1723.8" y1="743.8" x2="1759.2" y2="743.8" stroke="#999" stroke-width="3.7" stroke-linecap="round"/><text x="1781.0" y="752.7" font-family='"Liberation Sans", Arial, Helvetica, sans-serif' font-size="29.5">right(with)</text><line x1="1723.8" y1="774.1" x2="1728.7" y2="774.1" stroke="#999" stroke-width="3.7" stroke-linecap="round"/><line x1="1740.8" y1="774.1" x2="1747.7" y2="774.1" stroke="#999" stroke-width="3.7" stroke-linecap="round"/><line x1="1759.8" y1="774.1" x2="1759.2" y2="774.1" stroke="#999" stroke-width="3.7" stroke-linecap="round"/><text x="1781.0" y="783.5" font-family='"Liberation Sans", Arial, Helvetica, sans-serif' font-size="29.5">left(with)</text>
</svg></body></html>
